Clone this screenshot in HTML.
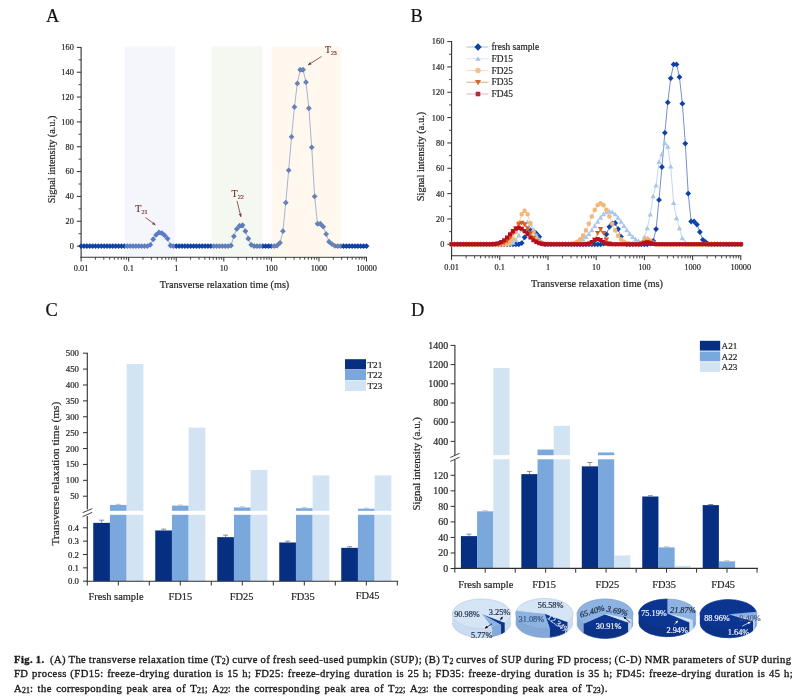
<!DOCTYPE html>
<html><head><meta charset="utf-8"><style>
html,body{margin:0;padding:0;background:#fff;}
body{width:808px;height:700px;overflow:hidden;position:relative;}
svg{position:absolute;left:0;top:0;will-change:transform;}
.cap{will-change:transform;}
svg text{stroke-width:0.2px;}
.cap{position:absolute;left:13.5px;font-family:"Liberation Serif",serif;font-size:10.6px;letter-spacing:0.42px;color:#1a1a1a;white-space:nowrap;-webkit-text-stroke:0.35px #1a1a1a;line-height:14px;}
.j{}
sub{font-size:7.8px;vertical-align:baseline;position:relative;top:1.4px;letter-spacing:0;}
</style></head><body>
<svg width="808" height="700" viewBox="0 0 808 700" font-family="Liberation Serif, serif">
<text x="46.00" y="21.90" font-size="18.4" text-anchor="start" fill="#111" stroke="#111" >A</text>
<text x="410.50" y="21.90" font-size="18.4" text-anchor="start" fill="#111" stroke="#111" >B</text>
<text x="45.50" y="316.30" font-size="18.4" text-anchor="start" fill="#111" stroke="#111" >C</text>
<text x="411.00" y="316.30" font-size="18.4" text-anchor="start" fill="#111" stroke="#111" >D</text>
<line x1="81.10" y1="46.90" x2="81.10" y2="257.70" stroke="#303030" stroke-width="1.1" />
<line x1="80.60" y1="257.20" x2="367.02" y2="257.20" stroke="#303030" stroke-width="1.1" />
<line x1="76.80" y1="246.10" x2="81.10" y2="246.10" stroke="#303030" stroke-width="1" />
<text x="73.80" y="249.00" font-size="8.3" text-anchor="end" fill="#262626" stroke="#262626" >0</text>
<line x1="78.60" y1="233.68" x2="81.10" y2="233.68" stroke="#303030" stroke-width="0.9" />
<line x1="76.80" y1="221.26" x2="81.10" y2="221.26" stroke="#303030" stroke-width="1" />
<text x="73.80" y="224.16" font-size="8.3" text-anchor="end" fill="#262626" stroke="#262626" >20</text>
<line x1="78.60" y1="208.84" x2="81.10" y2="208.84" stroke="#303030" stroke-width="0.9" />
<line x1="76.80" y1="196.42" x2="81.10" y2="196.42" stroke="#303030" stroke-width="1" />
<text x="73.80" y="199.32" font-size="8.3" text-anchor="end" fill="#262626" stroke="#262626" >40</text>
<line x1="78.60" y1="184.00" x2="81.10" y2="184.00" stroke="#303030" stroke-width="0.9" />
<line x1="76.80" y1="171.58" x2="81.10" y2="171.58" stroke="#303030" stroke-width="1" />
<text x="73.80" y="174.48" font-size="8.3" text-anchor="end" fill="#262626" stroke="#262626" >60</text>
<line x1="78.60" y1="159.16" x2="81.10" y2="159.16" stroke="#303030" stroke-width="0.9" />
<line x1="76.80" y1="146.74" x2="81.10" y2="146.74" stroke="#303030" stroke-width="1" />
<text x="73.80" y="149.64" font-size="8.3" text-anchor="end" fill="#262626" stroke="#262626" >80</text>
<line x1="78.60" y1="134.32" x2="81.10" y2="134.32" stroke="#303030" stroke-width="0.9" />
<line x1="76.80" y1="121.90" x2="81.10" y2="121.90" stroke="#303030" stroke-width="1" />
<text x="73.80" y="124.80" font-size="8.3" text-anchor="end" fill="#262626" stroke="#262626" >100</text>
<line x1="78.60" y1="109.48" x2="81.10" y2="109.48" stroke="#303030" stroke-width="0.9" />
<line x1="76.80" y1="97.06" x2="81.10" y2="97.06" stroke="#303030" stroke-width="1" />
<text x="73.80" y="99.96" font-size="8.3" text-anchor="end" fill="#262626" stroke="#262626" >120</text>
<line x1="78.60" y1="84.64" x2="81.10" y2="84.64" stroke="#303030" stroke-width="0.9" />
<line x1="76.80" y1="72.22" x2="81.10" y2="72.22" stroke="#303030" stroke-width="1" />
<text x="73.80" y="75.12" font-size="8.3" text-anchor="end" fill="#262626" stroke="#262626" >140</text>
<line x1="78.60" y1="59.80" x2="81.10" y2="59.80" stroke="#303030" stroke-width="0.9" />
<line x1="76.80" y1="47.38" x2="81.10" y2="47.38" stroke="#303030" stroke-width="1" />
<text x="73.80" y="50.28" font-size="8.3" text-anchor="end" fill="#262626" stroke="#262626" >160</text>
<line x1="81.10" y1="257.20" x2="81.10" y2="261.50" stroke="#303030" stroke-width="1" />
<text x="81.10" y="270.90" font-size="8.3" text-anchor="middle" fill="#262626" stroke="#262626" >0.01</text>
<line x1="95.42" y1="257.20" x2="95.42" y2="259.70" stroke="#303030" stroke-width="0.9" />
<line x1="103.80" y1="257.20" x2="103.80" y2="259.70" stroke="#303030" stroke-width="0.9" />
<line x1="109.74" y1="257.20" x2="109.74" y2="259.70" stroke="#303030" stroke-width="0.9" />
<line x1="114.35" y1="257.20" x2="114.35" y2="259.70" stroke="#303030" stroke-width="0.9" />
<line x1="118.12" y1="257.20" x2="118.12" y2="259.70" stroke="#303030" stroke-width="0.9" />
<line x1="121.30" y1="257.20" x2="121.30" y2="259.70" stroke="#303030" stroke-width="0.9" />
<line x1="124.06" y1="257.20" x2="124.06" y2="259.70" stroke="#303030" stroke-width="0.9" />
<line x1="126.49" y1="257.20" x2="126.49" y2="259.70" stroke="#303030" stroke-width="0.9" />
<line x1="128.67" y1="257.20" x2="128.67" y2="261.50" stroke="#303030" stroke-width="1" />
<text x="128.67" y="270.90" font-size="8.3" text-anchor="middle" fill="#262626" stroke="#262626" >0.1</text>
<line x1="142.99" y1="257.20" x2="142.99" y2="259.70" stroke="#303030" stroke-width="0.9" />
<line x1="151.37" y1="257.20" x2="151.37" y2="259.70" stroke="#303030" stroke-width="0.9" />
<line x1="157.31" y1="257.20" x2="157.31" y2="259.70" stroke="#303030" stroke-width="0.9" />
<line x1="161.92" y1="257.20" x2="161.92" y2="259.70" stroke="#303030" stroke-width="0.9" />
<line x1="165.69" y1="257.20" x2="165.69" y2="259.70" stroke="#303030" stroke-width="0.9" />
<line x1="168.87" y1="257.20" x2="168.87" y2="259.70" stroke="#303030" stroke-width="0.9" />
<line x1="171.63" y1="257.20" x2="171.63" y2="259.70" stroke="#303030" stroke-width="0.9" />
<line x1="174.06" y1="257.20" x2="174.06" y2="259.70" stroke="#303030" stroke-width="0.9" />
<line x1="176.24" y1="257.20" x2="176.24" y2="261.50" stroke="#303030" stroke-width="1" />
<text x="176.24" y="270.90" font-size="8.3" text-anchor="middle" fill="#262626" stroke="#262626" >1</text>
<line x1="190.56" y1="257.20" x2="190.56" y2="259.70" stroke="#303030" stroke-width="0.9" />
<line x1="198.94" y1="257.20" x2="198.94" y2="259.70" stroke="#303030" stroke-width="0.9" />
<line x1="204.88" y1="257.20" x2="204.88" y2="259.70" stroke="#303030" stroke-width="0.9" />
<line x1="209.49" y1="257.20" x2="209.49" y2="259.70" stroke="#303030" stroke-width="0.9" />
<line x1="213.26" y1="257.20" x2="213.26" y2="259.70" stroke="#303030" stroke-width="0.9" />
<line x1="216.44" y1="257.20" x2="216.44" y2="259.70" stroke="#303030" stroke-width="0.9" />
<line x1="219.20" y1="257.20" x2="219.20" y2="259.70" stroke="#303030" stroke-width="0.9" />
<line x1="221.63" y1="257.20" x2="221.63" y2="259.70" stroke="#303030" stroke-width="0.9" />
<line x1="223.81" y1="257.20" x2="223.81" y2="261.50" stroke="#303030" stroke-width="1" />
<text x="223.81" y="270.90" font-size="8.3" text-anchor="middle" fill="#262626" stroke="#262626" >10</text>
<line x1="238.13" y1="257.20" x2="238.13" y2="259.70" stroke="#303030" stroke-width="0.9" />
<line x1="246.51" y1="257.20" x2="246.51" y2="259.70" stroke="#303030" stroke-width="0.9" />
<line x1="252.45" y1="257.20" x2="252.45" y2="259.70" stroke="#303030" stroke-width="0.9" />
<line x1="257.06" y1="257.20" x2="257.06" y2="259.70" stroke="#303030" stroke-width="0.9" />
<line x1="260.83" y1="257.20" x2="260.83" y2="259.70" stroke="#303030" stroke-width="0.9" />
<line x1="264.01" y1="257.20" x2="264.01" y2="259.70" stroke="#303030" stroke-width="0.9" />
<line x1="266.77" y1="257.20" x2="266.77" y2="259.70" stroke="#303030" stroke-width="0.9" />
<line x1="269.20" y1="257.20" x2="269.20" y2="259.70" stroke="#303030" stroke-width="0.9" />
<line x1="271.38" y1="257.20" x2="271.38" y2="261.50" stroke="#303030" stroke-width="1" />
<text x="271.38" y="270.90" font-size="8.3" text-anchor="middle" fill="#262626" stroke="#262626" >100</text>
<line x1="285.70" y1="257.20" x2="285.70" y2="259.70" stroke="#303030" stroke-width="0.9" />
<line x1="294.08" y1="257.20" x2="294.08" y2="259.70" stroke="#303030" stroke-width="0.9" />
<line x1="300.02" y1="257.20" x2="300.02" y2="259.70" stroke="#303030" stroke-width="0.9" />
<line x1="304.63" y1="257.20" x2="304.63" y2="259.70" stroke="#303030" stroke-width="0.9" />
<line x1="308.40" y1="257.20" x2="308.40" y2="259.70" stroke="#303030" stroke-width="0.9" />
<line x1="311.58" y1="257.20" x2="311.58" y2="259.70" stroke="#303030" stroke-width="0.9" />
<line x1="314.34" y1="257.20" x2="314.34" y2="259.70" stroke="#303030" stroke-width="0.9" />
<line x1="316.77" y1="257.20" x2="316.77" y2="259.70" stroke="#303030" stroke-width="0.9" />
<line x1="318.95" y1="257.20" x2="318.95" y2="261.50" stroke="#303030" stroke-width="1" />
<text x="318.95" y="270.90" font-size="8.3" text-anchor="middle" fill="#262626" stroke="#262626" >1000</text>
<line x1="333.27" y1="257.20" x2="333.27" y2="259.70" stroke="#303030" stroke-width="0.9" />
<line x1="341.65" y1="257.20" x2="341.65" y2="259.70" stroke="#303030" stroke-width="0.9" />
<line x1="347.59" y1="257.20" x2="347.59" y2="259.70" stroke="#303030" stroke-width="0.9" />
<line x1="352.20" y1="257.20" x2="352.20" y2="259.70" stroke="#303030" stroke-width="0.9" />
<line x1="355.97" y1="257.20" x2="355.97" y2="259.70" stroke="#303030" stroke-width="0.9" />
<line x1="359.15" y1="257.20" x2="359.15" y2="259.70" stroke="#303030" stroke-width="0.9" />
<line x1="361.91" y1="257.20" x2="361.91" y2="259.70" stroke="#303030" stroke-width="0.9" />
<line x1="364.34" y1="257.20" x2="364.34" y2="259.70" stroke="#303030" stroke-width="0.9" />
<line x1="366.52" y1="257.20" x2="366.52" y2="261.50" stroke="#303030" stroke-width="1" />
<text x="366.52" y="270.90" font-size="8.3" text-anchor="middle" fill="#262626" stroke="#262626" >10000</text>
<text x="224.50" y="287.80" font-size="10.2" text-anchor="middle" fill="#262626" stroke="#262626" >Transverse relaxation time (ms)</text>
<text x="0" y="0" font-size="10.2" text-anchor="middle" fill="#262626" stroke="#262626" transform="translate(54.50,159.50) rotate(-90)">Signal intensity (a.u.)</text>
<polyline fill="none" stroke="#3a62b8" stroke-width="0.7" points="81.10,246.10 83.98,246.10 86.87,246.10 89.75,246.10 92.63,246.10 95.52,246.10 98.40,246.10 101.28,246.10 104.16,246.10 107.05,246.10 109.93,246.10 112.81,246.10 115.70,246.10 118.58,246.10 121.46,246.10 124.35,246.10 127.23,246.10 130.11,246.10 132.99,246.10 135.88,246.10 138.76,246.10 141.64,246.10 144.53,246.10 147.41,246.10 150.29,244.86 153.18,239.27 156.06,234.92 158.94,232.44 161.82,233.06 164.71,235.42 167.59,238.65 170.47,245.48 173.36,246.10 176.24,246.10 179.12,246.10 182.01,246.10 184.89,246.10 187.77,246.10 190.66,246.10 193.54,246.10 196.42,246.10 199.30,246.10 202.19,246.10 205.07,246.10 207.95,246.10 210.84,246.10 213.72,246.10 216.60,246.10 219.49,246.10 222.37,246.10 225.25,246.10 228.13,246.10 231.02,245.48 233.90,236.29 236.78,228.96 239.67,225.73 242.55,225.23 245.43,231.20 248.32,238.65 251.20,244.86 254.08,246.10 256.96,246.10 259.85,246.10 262.73,246.10 265.61,246.10 268.50,246.10 271.38,246.10 274.26,246.10 277.15,245.48 280.03,242.87 282.91,231.20 285.80,202.63 288.68,170.34 291.56,136.80 294.44,107.00 297.33,83.40 300.21,69.74 303.09,69.74 305.98,82.16 308.86,108.24 311.74,147.36 314.63,196.42 317.51,223.74 320.39,223.74 323.27,226.72 326.16,234.05 329.04,241.75 331.92,244.11 334.81,245.85 337.69,246.10 340.57,246.10 343.46,246.10 346.34,246.10 349.22,246.10 352.10,246.10 354.99,246.10 357.87,246.10 360.75,246.10 363.64,246.10 366.52,246.10"/>
<path fill="#0d42a6" d="M78.20 246.10L81.10 243.20L84.00 246.10L81.10 249.00ZM81.08 246.10L83.98 243.20L86.88 246.10L83.98 249.00ZM83.97 246.10L86.87 243.20L89.77 246.10L86.87 249.00ZM86.85 246.10L89.75 243.20L92.65 246.10L89.75 249.00ZM89.73 246.10L92.63 243.20L95.53 246.10L92.63 249.00ZM92.62 246.10L95.52 243.20L98.42 246.10L95.52 249.00ZM95.50 246.10L98.40 243.20L101.30 246.10L98.40 249.00ZM98.38 246.10L101.28 243.20L104.18 246.10L101.28 249.00ZM101.26 246.10L104.16 243.20L107.06 246.10L104.16 249.00ZM104.15 246.10L107.05 243.20L109.95 246.10L107.05 249.00ZM107.03 246.10L109.93 243.20L112.83 246.10L109.93 249.00ZM109.91 246.10L112.81 243.20L115.71 246.10L112.81 249.00ZM112.80 246.10L115.70 243.20L118.60 246.10L115.70 249.00ZM115.68 246.10L118.58 243.20L121.48 246.10L118.58 249.00ZM118.56 246.10L121.46 243.20L124.36 246.10L121.46 249.00ZM121.45 246.10L124.35 243.20L127.25 246.10L124.35 249.00ZM124.33 246.10L127.23 243.20L130.13 246.10L127.23 249.00ZM127.21 246.10L130.11 243.20L133.01 246.10L130.11 249.00ZM130.09 246.10L132.99 243.20L135.89 246.10L132.99 249.00ZM132.98 246.10L135.88 243.20L138.78 246.10L135.88 249.00ZM135.86 246.10L138.76 243.20L141.66 246.10L138.76 249.00ZM138.74 246.10L141.64 243.20L144.54 246.10L141.64 249.00ZM141.63 246.10L144.53 243.20L147.43 246.10L144.53 249.00ZM144.51 246.10L147.41 243.20L150.31 246.10L147.41 249.00ZM147.39 244.86L150.29 241.96L153.19 244.86L150.29 247.76ZM150.28 239.27L153.18 236.37L156.08 239.27L153.18 242.17ZM153.16 234.92L156.06 232.02L158.96 234.92L156.06 237.82ZM156.04 232.44L158.94 229.54L161.84 232.44L158.94 235.34ZM158.92 233.06L161.82 230.16L164.72 233.06L161.82 235.96ZM161.81 235.42L164.71 232.52L167.61 235.42L164.71 238.32ZM164.69 238.65L167.59 235.75L170.49 238.65L167.59 241.55ZM167.57 245.48L170.47 242.58L173.37 245.48L170.47 248.38ZM170.46 246.10L173.36 243.20L176.26 246.10L173.36 249.00ZM173.34 246.10L176.24 243.20L179.14 246.10L176.24 249.00ZM176.22 246.10L179.12 243.20L182.02 246.10L179.12 249.00ZM179.11 246.10L182.01 243.20L184.91 246.10L182.01 249.00ZM181.99 246.10L184.89 243.20L187.79 246.10L184.89 249.00ZM184.87 246.10L187.77 243.20L190.67 246.10L187.77 249.00ZM187.76 246.10L190.66 243.20L193.56 246.10L190.66 249.00ZM190.64 246.10L193.54 243.20L196.44 246.10L193.54 249.00ZM193.52 246.10L196.42 243.20L199.32 246.10L196.42 249.00ZM196.40 246.10L199.30 243.20L202.20 246.10L199.30 249.00ZM199.29 246.10L202.19 243.20L205.09 246.10L202.19 249.00ZM202.17 246.10L205.07 243.20L207.97 246.10L205.07 249.00ZM205.05 246.10L207.95 243.20L210.85 246.10L207.95 249.00ZM207.94 246.10L210.84 243.20L213.74 246.10L210.84 249.00ZM210.82 246.10L213.72 243.20L216.62 246.10L213.72 249.00ZM213.70 246.10L216.60 243.20L219.50 246.10L216.60 249.00ZM216.59 246.10L219.49 243.20L222.39 246.10L219.49 249.00ZM219.47 246.10L222.37 243.20L225.27 246.10L222.37 249.00ZM222.35 246.10L225.25 243.20L228.15 246.10L225.25 249.00ZM225.23 246.10L228.13 243.20L231.03 246.10L228.13 249.00ZM228.12 245.48L231.02 242.58L233.92 245.48L231.02 248.38ZM231.00 236.29L233.90 233.39L236.80 236.29L233.90 239.19ZM233.88 228.96L236.78 226.06L239.68 228.96L236.78 231.86ZM236.77 225.73L239.67 222.83L242.57 225.73L239.67 228.63ZM239.65 225.23L242.55 222.33L245.45 225.23L242.55 228.13ZM242.53 231.20L245.43 228.30L248.33 231.20L245.43 234.10ZM245.42 238.65L248.32 235.75L251.22 238.65L248.32 241.55ZM248.30 244.86L251.20 241.96L254.10 244.86L251.20 247.76ZM251.18 246.10L254.08 243.20L256.98 246.10L254.08 249.00ZM254.06 246.10L256.96 243.20L259.86 246.10L256.96 249.00ZM256.95 246.10L259.85 243.20L262.75 246.10L259.85 249.00ZM259.83 246.10L262.73 243.20L265.63 246.10L262.73 249.00ZM262.71 246.10L265.61 243.20L268.51 246.10L265.61 249.00ZM265.60 246.10L268.50 243.20L271.40 246.10L268.50 249.00ZM268.48 246.10L271.38 243.20L274.28 246.10L271.38 249.00ZM271.36 246.10L274.26 243.20L277.16 246.10L274.26 249.00ZM274.25 245.48L277.15 242.58L280.05 245.48L277.15 248.38ZM277.13 242.87L280.03 239.97L282.93 242.87L280.03 245.77ZM280.01 231.20L282.91 228.30L285.81 231.20L282.91 234.10ZM282.90 202.63L285.80 199.73L288.70 202.63L285.80 205.53ZM285.78 170.34L288.68 167.44L291.58 170.34L288.68 173.24ZM288.66 136.80L291.56 133.90L294.46 136.80L291.56 139.70ZM291.54 107.00L294.44 104.10L297.34 107.00L294.44 109.90ZM294.43 83.40L297.33 80.50L300.23 83.40L297.33 86.30ZM297.31 69.74L300.21 66.84L303.11 69.74L300.21 72.64ZM300.19 69.74L303.09 66.84L305.99 69.74L303.09 72.64ZM303.08 82.16L305.98 79.26L308.88 82.16L305.98 85.06ZM305.96 108.24L308.86 105.34L311.76 108.24L308.86 111.14ZM308.84 147.36L311.74 144.46L314.64 147.36L311.74 150.26ZM311.73 196.42L314.63 193.52L317.53 196.42L314.63 199.32ZM314.61 223.74L317.51 220.84L320.41 223.74L317.51 226.64ZM317.49 223.74L320.39 220.84L323.29 223.74L320.39 226.64ZM320.37 226.72L323.27 223.82L326.17 226.72L323.27 229.62ZM323.26 234.05L326.16 231.15L329.06 234.05L326.16 236.95ZM326.14 241.75L329.04 238.85L331.94 241.75L329.04 244.65ZM329.02 244.11L331.92 241.21L334.82 244.11L331.92 247.01ZM331.91 245.85L334.81 242.95L337.71 245.85L334.81 248.75ZM334.79 246.10L337.69 243.20L340.59 246.10L337.69 249.00ZM337.67 246.10L340.57 243.20L343.47 246.10L340.57 249.00ZM340.56 246.10L343.46 243.20L346.36 246.10L343.46 249.00ZM343.44 246.10L346.34 243.20L349.24 246.10L346.34 249.00ZM346.32 246.10L349.22 243.20L352.12 246.10L349.22 249.00ZM349.20 246.10L352.10 243.20L355.00 246.10L352.10 249.00ZM352.09 246.10L354.99 243.20L357.89 246.10L354.99 249.00ZM354.97 246.10L357.87 243.20L360.77 246.10L357.87 249.00ZM357.85 246.10L360.75 243.20L363.65 246.10L360.75 249.00ZM360.74 246.10L363.64 243.20L366.54 246.10L363.64 249.00ZM363.62 246.10L366.52 243.20L369.42 246.10L366.52 249.00Z"/>
<rect x="124.80" y="46.50" width="50.00" height="210.50" fill="rgb(226,226,248)" fill-opacity="0.36"/>
<rect x="211.80" y="46.50" width="50.50" height="210.50" fill="rgb(228,234,218)" fill-opacity="0.37"/>
<rect x="271.50" y="46.50" width="70.00" height="210.50" fill="rgb(252,236,212)" fill-opacity="0.38"/>
<text x="135.30" y="212.00" font-size="10" fill="#763432" stroke="#763432">T<tspan font-size="6.20" dy="2">21</tspan></text>
<line x1="145.50" y1="217.50" x2="155.50" y2="225.00" stroke="#763432" stroke-width="0.8" />
<text x="231.60" y="197.00" font-size="10" fill="#763432" stroke="#763432">T<tspan font-size="6.20" dy="2">22</tspan></text>
<line x1="237.00" y1="201.00" x2="241.00" y2="217.00" stroke="#763432" stroke-width="0.8" />
<text x="325.00" y="53.00" font-size="9.6" fill="#763432" stroke="#763432">T<tspan font-size="5.95" dy="2">23</tspan></text>
<line x1="321.50" y1="56.50" x2="308.00" y2="65.00" stroke="#763432" stroke-width="0.8" />
<path d="M0 0L-3.2 -1.5L-3.2 1.5Z" fill="#763432" transform="translate(155.5,225) rotate(37)"/>
<path d="M0 0L-3.2 -1.5L-3.2 1.5Z" fill="#763432" transform="translate(241,217) rotate(76)"/>
<path d="M0 0L-3.2 -1.5L-3.2 1.5Z" fill="#763432" transform="translate(308,65) rotate(148)"/>
<line x1="451.60" y1="41.10" x2="451.60" y2="256.30" stroke="#303030" stroke-width="1.1" />
<line x1="451.10" y1="255.80" x2="741.30" y2="255.80" stroke="#303030" stroke-width="1.1" />
<line x1="447.30" y1="244.30" x2="451.60" y2="244.30" stroke="#303030" stroke-width="1" />
<text x="444.30" y="247.20" font-size="8.3" text-anchor="end" fill="#262626" stroke="#262626" >0</text>
<line x1="449.10" y1="231.63" x2="451.60" y2="231.63" stroke="#303030" stroke-width="0.9" />
<line x1="447.30" y1="218.96" x2="451.60" y2="218.96" stroke="#303030" stroke-width="1" />
<text x="444.30" y="221.86" font-size="8.3" text-anchor="end" fill="#262626" stroke="#262626" >20</text>
<line x1="449.10" y1="206.29" x2="451.60" y2="206.29" stroke="#303030" stroke-width="0.9" />
<line x1="447.30" y1="193.62" x2="451.60" y2="193.62" stroke="#303030" stroke-width="1" />
<text x="444.30" y="196.52" font-size="8.3" text-anchor="end" fill="#262626" stroke="#262626" >40</text>
<line x1="449.10" y1="180.95" x2="451.60" y2="180.95" stroke="#303030" stroke-width="0.9" />
<line x1="447.30" y1="168.28" x2="451.60" y2="168.28" stroke="#303030" stroke-width="1" />
<text x="444.30" y="171.18" font-size="8.3" text-anchor="end" fill="#262626" stroke="#262626" >60</text>
<line x1="449.10" y1="155.61" x2="451.60" y2="155.61" stroke="#303030" stroke-width="0.9" />
<line x1="447.30" y1="142.94" x2="451.60" y2="142.94" stroke="#303030" stroke-width="1" />
<text x="444.30" y="145.84" font-size="8.3" text-anchor="end" fill="#262626" stroke="#262626" >80</text>
<line x1="449.10" y1="130.27" x2="451.60" y2="130.27" stroke="#303030" stroke-width="0.9" />
<line x1="447.30" y1="117.60" x2="451.60" y2="117.60" stroke="#303030" stroke-width="1" />
<text x="444.30" y="120.50" font-size="8.3" text-anchor="end" fill="#262626" stroke="#262626" >100</text>
<line x1="449.10" y1="104.93" x2="451.60" y2="104.93" stroke="#303030" stroke-width="0.9" />
<line x1="447.30" y1="92.26" x2="451.60" y2="92.26" stroke="#303030" stroke-width="1" />
<text x="444.30" y="95.16" font-size="8.3" text-anchor="end" fill="#262626" stroke="#262626" >120</text>
<line x1="449.10" y1="79.59" x2="451.60" y2="79.59" stroke="#303030" stroke-width="0.9" />
<line x1="447.30" y1="66.92" x2="451.60" y2="66.92" stroke="#303030" stroke-width="1" />
<text x="444.30" y="69.82" font-size="8.3" text-anchor="end" fill="#262626" stroke="#262626" >140</text>
<line x1="449.10" y1="54.25" x2="451.60" y2="54.25" stroke="#303030" stroke-width="0.9" />
<line x1="447.30" y1="41.58" x2="451.60" y2="41.58" stroke="#303030" stroke-width="1" />
<text x="444.30" y="44.48" font-size="8.3" text-anchor="end" fill="#262626" stroke="#262626" >160</text>
<line x1="451.60" y1="255.80" x2="451.60" y2="260.10" stroke="#303030" stroke-width="1" />
<text x="451.60" y="270.00" font-size="8.3" text-anchor="middle" fill="#262626" stroke="#262626" >0.01</text>
<line x1="466.11" y1="255.80" x2="466.11" y2="258.30" stroke="#303030" stroke-width="0.9" />
<line x1="474.60" y1="255.80" x2="474.60" y2="258.30" stroke="#303030" stroke-width="0.9" />
<line x1="480.62" y1="255.80" x2="480.62" y2="258.30" stroke="#303030" stroke-width="0.9" />
<line x1="485.29" y1="255.80" x2="485.29" y2="258.30" stroke="#303030" stroke-width="0.9" />
<line x1="489.11" y1="255.80" x2="489.11" y2="258.30" stroke="#303030" stroke-width="0.9" />
<line x1="492.33" y1="255.80" x2="492.33" y2="258.30" stroke="#303030" stroke-width="0.9" />
<line x1="495.13" y1="255.80" x2="495.13" y2="258.30" stroke="#303030" stroke-width="0.9" />
<line x1="497.59" y1="255.80" x2="497.59" y2="258.30" stroke="#303030" stroke-width="0.9" />
<line x1="499.80" y1="255.80" x2="499.80" y2="260.10" stroke="#303030" stroke-width="1" />
<text x="499.80" y="270.00" font-size="8.3" text-anchor="middle" fill="#262626" stroke="#262626" >0.1</text>
<line x1="514.31" y1="255.80" x2="514.31" y2="258.30" stroke="#303030" stroke-width="0.9" />
<line x1="522.80" y1="255.80" x2="522.80" y2="258.30" stroke="#303030" stroke-width="0.9" />
<line x1="528.82" y1="255.80" x2="528.82" y2="258.30" stroke="#303030" stroke-width="0.9" />
<line x1="533.49" y1="255.80" x2="533.49" y2="258.30" stroke="#303030" stroke-width="0.9" />
<line x1="537.31" y1="255.80" x2="537.31" y2="258.30" stroke="#303030" stroke-width="0.9" />
<line x1="540.53" y1="255.80" x2="540.53" y2="258.30" stroke="#303030" stroke-width="0.9" />
<line x1="543.33" y1="255.80" x2="543.33" y2="258.30" stroke="#303030" stroke-width="0.9" />
<line x1="545.79" y1="255.80" x2="545.79" y2="258.30" stroke="#303030" stroke-width="0.9" />
<line x1="548.00" y1="255.80" x2="548.00" y2="260.10" stroke="#303030" stroke-width="1" />
<text x="548.00" y="270.00" font-size="8.3" text-anchor="middle" fill="#262626" stroke="#262626" >1</text>
<line x1="562.51" y1="255.80" x2="562.51" y2="258.30" stroke="#303030" stroke-width="0.9" />
<line x1="571.00" y1="255.80" x2="571.00" y2="258.30" stroke="#303030" stroke-width="0.9" />
<line x1="577.02" y1="255.80" x2="577.02" y2="258.30" stroke="#303030" stroke-width="0.9" />
<line x1="581.69" y1="255.80" x2="581.69" y2="258.30" stroke="#303030" stroke-width="0.9" />
<line x1="585.51" y1="255.80" x2="585.51" y2="258.30" stroke="#303030" stroke-width="0.9" />
<line x1="588.73" y1="255.80" x2="588.73" y2="258.30" stroke="#303030" stroke-width="0.9" />
<line x1="591.53" y1="255.80" x2="591.53" y2="258.30" stroke="#303030" stroke-width="0.9" />
<line x1="593.99" y1="255.80" x2="593.99" y2="258.30" stroke="#303030" stroke-width="0.9" />
<line x1="596.20" y1="255.80" x2="596.20" y2="260.10" stroke="#303030" stroke-width="1" />
<text x="596.20" y="270.00" font-size="8.3" text-anchor="middle" fill="#262626" stroke="#262626" >10</text>
<line x1="610.71" y1="255.80" x2="610.71" y2="258.30" stroke="#303030" stroke-width="0.9" />
<line x1="619.20" y1="255.80" x2="619.20" y2="258.30" stroke="#303030" stroke-width="0.9" />
<line x1="625.22" y1="255.80" x2="625.22" y2="258.30" stroke="#303030" stroke-width="0.9" />
<line x1="629.89" y1="255.80" x2="629.89" y2="258.30" stroke="#303030" stroke-width="0.9" />
<line x1="633.71" y1="255.80" x2="633.71" y2="258.30" stroke="#303030" stroke-width="0.9" />
<line x1="636.93" y1="255.80" x2="636.93" y2="258.30" stroke="#303030" stroke-width="0.9" />
<line x1="639.73" y1="255.80" x2="639.73" y2="258.30" stroke="#303030" stroke-width="0.9" />
<line x1="642.19" y1="255.80" x2="642.19" y2="258.30" stroke="#303030" stroke-width="0.9" />
<line x1="644.40" y1="255.80" x2="644.40" y2="260.10" stroke="#303030" stroke-width="1" />
<text x="644.40" y="270.00" font-size="8.3" text-anchor="middle" fill="#262626" stroke="#262626" >100</text>
<line x1="658.91" y1="255.80" x2="658.91" y2="258.30" stroke="#303030" stroke-width="0.9" />
<line x1="667.40" y1="255.80" x2="667.40" y2="258.30" stroke="#303030" stroke-width="0.9" />
<line x1="673.42" y1="255.80" x2="673.42" y2="258.30" stroke="#303030" stroke-width="0.9" />
<line x1="678.09" y1="255.80" x2="678.09" y2="258.30" stroke="#303030" stroke-width="0.9" />
<line x1="681.91" y1="255.80" x2="681.91" y2="258.30" stroke="#303030" stroke-width="0.9" />
<line x1="685.13" y1="255.80" x2="685.13" y2="258.30" stroke="#303030" stroke-width="0.9" />
<line x1="687.93" y1="255.80" x2="687.93" y2="258.30" stroke="#303030" stroke-width="0.9" />
<line x1="690.39" y1="255.80" x2="690.39" y2="258.30" stroke="#303030" stroke-width="0.9" />
<line x1="692.60" y1="255.80" x2="692.60" y2="260.10" stroke="#303030" stroke-width="1" />
<text x="692.60" y="270.00" font-size="8.3" text-anchor="middle" fill="#262626" stroke="#262626" >1000</text>
<line x1="707.11" y1="255.80" x2="707.11" y2="258.30" stroke="#303030" stroke-width="0.9" />
<line x1="715.60" y1="255.80" x2="715.60" y2="258.30" stroke="#303030" stroke-width="0.9" />
<line x1="721.62" y1="255.80" x2="721.62" y2="258.30" stroke="#303030" stroke-width="0.9" />
<line x1="726.29" y1="255.80" x2="726.29" y2="258.30" stroke="#303030" stroke-width="0.9" />
<line x1="730.11" y1="255.80" x2="730.11" y2="258.30" stroke="#303030" stroke-width="0.9" />
<line x1="733.33" y1="255.80" x2="733.33" y2="258.30" stroke="#303030" stroke-width="0.9" />
<line x1="736.13" y1="255.80" x2="736.13" y2="258.30" stroke="#303030" stroke-width="0.9" />
<line x1="738.59" y1="255.80" x2="738.59" y2="258.30" stroke="#303030" stroke-width="0.9" />
<line x1="740.80" y1="255.80" x2="740.80" y2="260.10" stroke="#303030" stroke-width="1" />
<text x="740.80" y="270.00" font-size="8.3" text-anchor="middle" fill="#262626" stroke="#262626" >10000</text>
<text x="597.00" y="286.60" font-size="10.4" text-anchor="middle" fill="#262626" stroke="#262626" >Transverse relaxation time (ms)</text>
<text x="0" y="0" font-size="10.4" text-anchor="middle" fill="#262626" stroke="#262626" transform="translate(423.50,156.50) rotate(-90)">Signal intensity (a.u.)</text>
<polyline fill="none" stroke="#3a62b8" stroke-width="0.7" points="451.60,244.30 454.52,244.30 457.44,244.30 460.36,244.30 463.28,244.30 466.21,244.30 469.13,244.30 472.05,244.30 474.97,244.30 477.89,244.30 480.81,244.30 483.73,244.30 486.65,244.30 489.58,244.30 492.50,244.30 495.42,244.30 498.34,244.30 501.26,244.30 504.18,244.30 507.10,244.30 510.02,244.30 512.95,244.30 515.87,244.30 518.79,244.30 521.71,243.03 524.63,237.33 527.55,232.90 530.47,230.36 533.39,231.00 536.32,233.40 539.24,236.70 542.16,243.67 545.08,244.30 548.00,244.30 550.92,244.30 553.84,244.30 556.76,244.30 559.68,244.30 562.61,244.30 565.53,244.30 568.45,244.30 571.37,244.30 574.29,244.30 577.21,244.30 580.13,244.30 583.05,244.30 585.98,244.30 588.90,244.30 591.82,244.30 594.74,244.30 597.66,244.30 600.58,244.30 603.50,243.67 606.42,234.29 609.35,226.82 612.27,223.52 615.19,223.01 618.11,229.10 621.03,236.70 623.95,243.03 626.87,244.30 629.79,244.30 632.72,244.30 635.64,244.30 638.56,244.30 641.48,244.30 644.40,244.30 647.32,244.30 650.24,243.67 653.16,241.01 656.08,229.10 659.01,199.96 661.93,167.01 664.85,132.80 667.77,102.40 670.69,78.32 673.61,64.39 676.53,64.39 679.45,77.06 682.38,103.66 685.30,143.57 688.22,193.62 691.14,221.49 694.06,221.49 696.98,224.53 699.90,232.01 702.82,239.87 705.75,242.27 708.67,244.05 711.59,244.30 714.51,244.30 717.43,244.30 720.35,244.30 723.27,244.30 726.19,244.30 729.12,244.30 732.04,244.30 734.96,244.30 737.88,244.30 740.80,244.30"/>
<path fill="#0d42a6" d="M448.70 244.30L451.60 241.40L454.50 244.30L451.60 247.20ZM451.62 244.30L454.52 241.40L457.42 244.30L454.52 247.20ZM454.54 244.30L457.44 241.40L460.34 244.30L457.44 247.20ZM457.46 244.30L460.36 241.40L463.26 244.30L460.36 247.20ZM460.38 244.30L463.28 241.40L466.18 244.30L463.28 247.20ZM463.31 244.30L466.21 241.40L469.11 244.30L466.21 247.20ZM466.23 244.30L469.13 241.40L472.03 244.30L469.13 247.20ZM469.15 244.30L472.05 241.40L474.95 244.30L472.05 247.20ZM472.07 244.30L474.97 241.40L477.87 244.30L474.97 247.20ZM474.99 244.30L477.89 241.40L480.79 244.30L477.89 247.20ZM477.91 244.30L480.81 241.40L483.71 244.30L480.81 247.20ZM480.83 244.30L483.73 241.40L486.63 244.30L483.73 247.20ZM483.75 244.30L486.65 241.40L489.55 244.30L486.65 247.20ZM486.68 244.30L489.58 241.40L492.48 244.30L489.58 247.20ZM489.60 244.30L492.50 241.40L495.40 244.30L492.50 247.20ZM492.52 244.30L495.42 241.40L498.32 244.30L495.42 247.20ZM495.44 244.30L498.34 241.40L501.24 244.30L498.34 247.20ZM498.36 244.30L501.26 241.40L504.16 244.30L501.26 247.20ZM501.28 244.30L504.18 241.40L507.08 244.30L504.18 247.20ZM504.20 244.30L507.10 241.40L510.00 244.30L507.10 247.20ZM507.12 244.30L510.02 241.40L512.92 244.30L510.02 247.20ZM510.05 244.30L512.95 241.40L515.85 244.30L512.95 247.20ZM512.97 244.30L515.87 241.40L518.77 244.30L515.87 247.20ZM515.89 244.30L518.79 241.40L521.69 244.30L518.79 247.20ZM518.81 243.03L521.71 240.13L524.61 243.03L521.71 245.93ZM521.73 237.33L524.63 234.43L527.53 237.33L524.63 240.23ZM524.65 232.90L527.55 230.00L530.45 232.90L527.55 235.80ZM527.57 230.36L530.47 227.46L533.37 230.36L530.47 233.26ZM530.49 231.00L533.39 228.10L536.29 231.00L533.39 233.90ZM533.42 233.40L536.32 230.50L539.22 233.40L536.32 236.30ZM536.34 236.70L539.24 233.80L542.14 236.70L539.24 239.60ZM539.26 243.67L542.16 240.77L545.06 243.67L542.16 246.57ZM542.18 244.30L545.08 241.40L547.98 244.30L545.08 247.20ZM545.10 244.30L548.00 241.40L550.90 244.30L548.00 247.20ZM548.02 244.30L550.92 241.40L553.82 244.30L550.92 247.20ZM550.94 244.30L553.84 241.40L556.74 244.30L553.84 247.20ZM553.86 244.30L556.76 241.40L559.66 244.30L556.76 247.20ZM556.78 244.30L559.68 241.40L562.58 244.30L559.68 247.20ZM559.71 244.30L562.61 241.40L565.51 244.30L562.61 247.20ZM562.63 244.30L565.53 241.40L568.43 244.30L565.53 247.20ZM565.55 244.30L568.45 241.40L571.35 244.30L568.45 247.20ZM568.47 244.30L571.37 241.40L574.27 244.30L571.37 247.20ZM571.39 244.30L574.29 241.40L577.19 244.30L574.29 247.20ZM574.31 244.30L577.21 241.40L580.11 244.30L577.21 247.20ZM577.23 244.30L580.13 241.40L583.03 244.30L580.13 247.20ZM580.15 244.30L583.05 241.40L585.95 244.30L583.05 247.20ZM583.08 244.30L585.98 241.40L588.88 244.30L585.98 247.20ZM586.00 244.30L588.90 241.40L591.80 244.30L588.90 247.20ZM588.92 244.30L591.82 241.40L594.72 244.30L591.82 247.20ZM591.84 244.30L594.74 241.40L597.64 244.30L594.74 247.20ZM594.76 244.30L597.66 241.40L600.56 244.30L597.66 247.20ZM597.68 244.30L600.58 241.40L603.48 244.30L600.58 247.20ZM600.60 243.67L603.50 240.77L606.40 243.67L603.50 246.57ZM603.52 234.29L606.42 231.39L609.32 234.29L606.42 237.19ZM606.45 226.82L609.35 223.92L612.25 226.82L609.35 229.72ZM609.37 223.52L612.27 220.62L615.17 223.52L612.27 226.42ZM612.29 223.01L615.19 220.11L618.09 223.01L615.19 225.91ZM615.21 229.10L618.11 226.20L621.01 229.10L618.11 232.00ZM618.13 236.70L621.03 233.80L623.93 236.70L621.03 239.60ZM621.05 243.03L623.95 240.13L626.85 243.03L623.95 245.93ZM623.97 244.30L626.87 241.40L629.77 244.30L626.87 247.20ZM626.89 244.30L629.79 241.40L632.69 244.30L629.79 247.20ZM629.82 244.30L632.72 241.40L635.62 244.30L632.72 247.20ZM632.74 244.30L635.64 241.40L638.54 244.30L635.64 247.20ZM635.66 244.30L638.56 241.40L641.46 244.30L638.56 247.20ZM638.58 244.30L641.48 241.40L644.38 244.30L641.48 247.20ZM641.50 244.30L644.40 241.40L647.30 244.30L644.40 247.20ZM644.42 244.30L647.32 241.40L650.22 244.30L647.32 247.20ZM647.34 243.67L650.24 240.77L653.14 243.67L650.24 246.57ZM650.26 241.01L653.16 238.11L656.06 241.01L653.16 243.91ZM653.18 229.10L656.08 226.20L658.98 229.10L656.08 232.00ZM656.11 199.96L659.01 197.06L661.91 199.96L659.01 202.86ZM659.03 167.01L661.93 164.11L664.83 167.01L661.93 169.91ZM661.95 132.80L664.85 129.90L667.75 132.80L664.85 135.70ZM664.87 102.40L667.77 99.50L670.67 102.40L667.77 105.30ZM667.79 78.32L670.69 75.42L673.59 78.32L670.69 81.22ZM670.71 64.39L673.61 61.49L676.51 64.39L673.61 67.29ZM673.63 64.39L676.53 61.49L679.43 64.39L676.53 67.29ZM676.55 77.06L679.45 74.16L682.35 77.06L679.45 79.96ZM679.48 103.66L682.38 100.76L685.28 103.66L682.38 106.56ZM682.40 143.57L685.30 140.67L688.20 143.57L685.30 146.47ZM685.32 193.62L688.22 190.72L691.12 193.62L688.22 196.52ZM688.24 221.49L691.14 218.59L694.04 221.49L691.14 224.39ZM691.16 221.49L694.06 218.59L696.96 221.49L694.06 224.39ZM694.08 224.53L696.98 221.63L699.88 224.53L696.98 227.43ZM697.00 232.01L699.90 229.11L702.80 232.01L699.90 234.91ZM699.92 239.87L702.82 236.97L705.72 239.87L702.82 242.77ZM702.85 242.27L705.75 239.37L708.65 242.27L705.75 245.17ZM705.77 244.05L708.67 241.15L711.57 244.05L708.67 246.95ZM708.69 244.30L711.59 241.40L714.49 244.30L711.59 247.20ZM711.61 244.30L714.51 241.40L717.41 244.30L714.51 247.20ZM714.53 244.30L717.43 241.40L720.33 244.30L717.43 247.20ZM717.45 244.30L720.35 241.40L723.25 244.30L720.35 247.20ZM720.37 244.30L723.27 241.40L726.17 244.30L723.27 247.20ZM723.29 244.30L726.19 241.40L729.09 244.30L726.19 247.20ZM726.22 244.30L729.12 241.40L732.02 244.30L729.12 247.20ZM729.14 244.30L732.04 241.40L734.94 244.30L732.04 247.20ZM732.06 244.30L734.96 241.40L737.86 244.30L734.96 247.20ZM734.98 244.30L737.88 241.40L740.78 244.30L737.88 247.20ZM737.90 244.30L740.80 241.40L743.70 244.30L740.80 247.20Z"/>
<polyline fill="none" stroke="#a9c6e6" stroke-width="0.7" points="451.60,244.30 454.52,244.30 457.44,244.30 460.36,244.30 463.28,244.30 466.21,244.30 469.13,244.30 472.05,244.30 474.97,244.30 477.89,244.30 480.81,244.30 483.73,244.30 486.65,244.30 489.58,244.30 492.50,244.30 495.42,244.30 498.34,244.30 501.26,244.29 504.18,244.27 507.10,244.16 510.02,243.76 512.95,242.62 515.87,240.05 518.79,235.55 521.71,229.63 524.63,224.30 527.55,222.13 530.47,224.30 533.39,229.63 536.32,235.55 539.24,240.05 542.16,242.62 545.08,243.76 548.00,244.16 550.92,244.27 553.84,244.29 556.76,244.28 559.68,244.26 562.61,244.22 565.53,244.14 568.45,243.98 571.37,243.69 574.29,243.20 577.21,242.41 580.13,241.20 583.05,239.44 585.98,237.04 588.90,233.95 591.82,230.23 594.74,226.05 597.66,221.73 600.58,217.67 603.50,214.33 606.42,212.13 609.35,211.36 612.27,212.13 615.19,214.33 618.11,217.67 621.03,221.73 623.95,226.05 626.87,230.23 629.79,233.95 632.72,237.04 635.64,239.44 638.56,241.20 641.48,242.40 644.40,237.08 647.32,228.34 650.24,214.40 653.16,196.15 656.08,185.38 659.01,161.95 661.93,154.34 664.85,142.94 667.77,146.74 670.69,166.38 673.61,203.00 676.53,218.20 679.45,228.34 682.38,238.35 685.30,243.03 688.22,244.30 691.14,244.30 694.06,244.30 696.98,244.30 699.90,244.30 702.82,244.30 705.75,244.30 708.67,244.30 711.59,244.30 714.51,244.30 717.43,244.30 720.35,244.30 723.27,244.30 726.19,244.30 729.12,244.30 732.04,244.30 734.96,244.30 737.88,244.30 740.80,244.30"/>
<path fill="#a8c8ea" d="M448.90 246.33L451.60 241.60L454.30 246.33ZM451.82 246.33L454.52 241.60L457.22 246.33ZM454.74 246.33L457.44 241.60L460.14 246.33ZM457.66 246.33L460.36 241.60L463.06 246.33ZM460.58 246.33L463.28 241.60L465.98 246.33ZM463.51 246.33L466.21 241.60L468.91 246.33ZM466.43 246.33L469.13 241.60L471.83 246.33ZM469.35 246.33L472.05 241.60L474.75 246.33ZM472.27 246.32L474.97 241.60L477.67 246.32ZM475.19 246.32L477.89 241.60L480.59 246.32ZM478.11 246.32L480.81 241.60L483.51 246.32ZM481.03 246.32L483.73 241.60L486.43 246.32ZM483.95 246.32L486.65 241.60L489.35 246.32ZM486.88 246.32L489.58 241.60L492.28 246.32ZM489.80 246.32L492.50 241.60L495.20 246.32ZM492.72 246.32L495.42 241.60L498.12 246.32ZM495.64 246.32L498.34 241.60L501.04 246.32ZM498.56 246.32L501.26 241.59L503.96 246.32ZM501.48 246.30L504.18 241.57L506.88 246.30ZM504.40 246.18L507.10 241.46L509.80 246.18ZM507.32 245.79L510.02 241.06L512.72 245.79ZM510.25 244.65L512.95 239.92L515.65 244.65ZM513.17 242.08L515.87 237.35L518.57 242.08ZM516.09 237.57L518.79 232.85L521.49 237.57ZM519.01 231.66L521.71 226.93L524.41 231.66ZM521.93 226.33L524.63 221.60L527.33 226.33ZM524.85 224.15L527.55 219.43L530.25 224.15ZM527.77 226.33L530.47 221.60L533.17 226.33ZM530.69 231.66L533.39 226.93L536.09 231.66ZM533.62 237.57L536.32 232.85L539.02 237.57ZM536.54 242.08L539.24 237.35L541.94 242.08ZM539.46 244.65L542.16 239.92L544.86 244.65ZM542.38 245.79L545.08 241.06L547.78 245.79ZM545.30 246.18L548.00 241.46L550.70 246.18ZM548.22 246.29L550.92 241.57L553.62 246.29ZM551.14 246.31L553.84 241.59L556.54 246.31ZM554.06 246.31L556.76 241.58L559.46 246.31ZM556.98 246.29L559.68 241.56L562.38 246.29ZM559.91 246.25L562.61 241.52L565.31 246.25ZM562.83 246.16L565.53 241.44L568.23 246.16ZM565.75 246.00L568.45 241.28L571.15 246.00ZM568.67 245.72L571.37 240.99L574.07 245.72ZM571.59 245.23L574.29 240.50L576.99 245.23ZM574.51 244.44L577.21 239.71L579.91 244.44ZM577.43 243.22L580.13 238.50L582.83 243.22ZM580.35 241.47L583.05 236.74L585.75 241.47ZM583.28 239.06L585.98 234.34L588.68 239.06ZM586.20 235.98L588.90 231.25L591.60 235.98ZM589.12 232.25L591.82 227.53L594.52 232.25ZM592.04 228.08L594.74 223.35L597.44 228.08ZM594.96 223.75L597.66 219.03L600.36 223.75ZM597.88 219.69L600.58 214.97L603.28 219.69ZM600.80 216.35L603.50 211.63L606.20 216.35ZM603.72 214.15L606.42 209.43L609.12 214.15ZM606.65 213.38L609.35 208.66L612.05 213.38ZM609.57 214.15L612.27 209.43L614.97 214.15ZM612.49 216.35L615.19 211.63L617.89 216.35ZM615.41 219.69L618.11 214.97L620.81 219.69ZM618.33 223.75L621.03 219.03L623.73 223.75ZM621.25 228.08L623.95 223.35L626.65 228.08ZM624.17 232.25L626.87 227.53L629.57 232.25ZM627.09 235.98L629.79 231.25L632.49 235.98ZM630.02 239.06L632.72 234.34L635.42 239.06ZM632.94 241.47L635.64 236.74L638.34 241.47ZM635.86 243.22L638.56 238.50L641.26 243.22ZM638.78 244.42L641.48 239.70L644.18 244.42ZM641.70 239.10L644.40 234.38L647.10 239.10ZM644.62 230.36L647.32 225.64L650.02 230.36ZM647.54 216.42L650.24 211.70L652.94 216.42ZM650.46 198.18L653.16 193.45L655.86 198.18ZM653.38 187.41L656.08 182.68L658.78 187.41ZM656.31 163.97L659.01 159.25L661.71 163.97ZM659.23 156.37L661.93 151.64L664.63 156.37ZM662.15 144.97L664.85 140.24L667.55 144.97ZM665.07 148.77L667.77 144.04L670.47 148.77ZM667.99 168.40L670.69 163.68L673.39 168.40ZM670.91 205.02L673.61 200.30L676.31 205.02ZM673.83 220.22L676.53 215.50L679.23 220.22ZM676.75 230.36L679.45 225.64L682.15 230.36ZM679.68 240.37L682.38 235.65L685.08 240.37ZM682.60 245.06L685.30 240.33L688.00 245.06ZM685.52 246.32L688.22 241.60L690.92 246.32ZM688.44 246.32L691.14 241.60L693.84 246.32ZM691.36 246.32L694.06 241.60L696.76 246.32ZM694.28 246.32L696.98 241.60L699.68 246.32ZM697.20 246.32L699.90 241.60L702.60 246.32ZM700.12 246.32L702.82 241.60L705.52 246.32ZM703.05 246.32L705.75 241.60L708.45 246.32ZM705.97 246.32L708.67 241.60L711.37 246.32ZM708.89 246.32L711.59 241.60L714.29 246.32ZM711.81 246.32L714.51 241.60L717.21 246.32ZM714.73 246.32L717.43 241.60L720.13 246.32ZM717.65 246.32L720.35 241.60L723.05 246.32ZM720.57 246.33L723.27 241.60L725.97 246.33ZM723.49 246.33L726.19 241.60L728.89 246.33ZM726.42 246.33L729.12 241.60L731.82 246.33ZM729.34 246.33L732.04 241.60L734.74 246.33ZM732.26 246.33L734.96 241.60L737.66 246.33ZM735.18 246.33L737.88 241.60L740.58 246.33ZM738.10 246.33L740.80 241.60L743.50 246.33Z"/>
<polyline fill="none" stroke="#f2c08a" stroke-width="0.7" points="451.60,244.30 454.52,244.30 457.44,244.30 460.36,244.30 463.28,244.30 466.21,244.30 469.13,244.30 472.05,244.30 474.97,244.30 477.89,244.30 480.81,244.30 483.73,244.30 486.65,244.30 489.58,244.30 492.50,244.30 495.42,244.30 498.34,244.30 501.26,244.28 504.18,244.17 507.10,243.73 510.02,242.33 512.95,238.83 515.87,232.20 518.79,222.97 521.71,214.32 524.63,210.72 527.55,214.32 530.47,222.97 533.39,232.20 536.32,238.83 539.24,242.33 542.16,243.73 545.08,244.17 548.00,244.28 550.92,244.30 553.84,244.30 556.76,244.30 559.68,244.29 562.61,244.27 565.53,244.22 568.45,244.08 571.37,243.76 574.29,243.07 577.21,241.73 580.13,239.38 583.05,235.68 585.98,230.42 588.90,223.82 591.82,216.57 594.74,209.88 597.66,205.11 600.58,203.38 603.50,205.11 606.42,209.88 609.35,216.57 612.27,223.82 615.19,230.42 618.11,235.68 621.03,239.38 623.95,241.73 626.87,243.07 629.79,243.76 632.72,244.08 635.64,244.20 638.56,244.02 641.48,242.87 644.40,240.27 647.32,238.60 650.24,240.27 653.16,242.88 656.08,244.05 659.01,244.28 661.93,244.30 664.85,244.30 667.77,244.30 670.69,244.30 673.61,244.30 676.53,244.30 679.45,244.30 682.38,244.30 685.30,244.30 688.22,244.30 691.14,244.30 694.06,244.30 696.98,244.30 699.90,244.30 702.82,244.30 705.75,244.30 708.67,244.30 711.59,244.30 714.51,244.30 717.43,244.30 720.35,244.30 723.27,244.30 726.19,244.30 729.12,244.30 732.04,244.30 734.96,244.30 737.88,244.30 740.80,244.30"/>
<path fill="#f2b87a" d="M449.30 244.30a2.30 2.30 0 1 0 4.60 0a2.30 2.30 0 1 0 -4.60 0ZM452.22 244.30a2.30 2.30 0 1 0 4.60 0a2.30 2.30 0 1 0 -4.60 0ZM455.14 244.30a2.30 2.30 0 1 0 4.60 0a2.30 2.30 0 1 0 -4.60 0ZM458.06 244.30a2.30 2.30 0 1 0 4.60 0a2.30 2.30 0 1 0 -4.60 0ZM460.98 244.30a2.30 2.30 0 1 0 4.60 0a2.30 2.30 0 1 0 -4.60 0ZM463.91 244.30a2.30 2.30 0 1 0 4.60 0a2.30 2.30 0 1 0 -4.60 0ZM466.83 244.30a2.30 2.30 0 1 0 4.60 0a2.30 2.30 0 1 0 -4.60 0ZM469.75 244.30a2.30 2.30 0 1 0 4.60 0a2.30 2.30 0 1 0 -4.60 0ZM472.67 244.30a2.30 2.30 0 1 0 4.60 0a2.30 2.30 0 1 0 -4.60 0ZM475.59 244.30a2.30 2.30 0 1 0 4.60 0a2.30 2.30 0 1 0 -4.60 0ZM478.51 244.30a2.30 2.30 0 1 0 4.60 0a2.30 2.30 0 1 0 -4.60 0ZM481.43 244.30a2.30 2.30 0 1 0 4.60 0a2.30 2.30 0 1 0 -4.60 0ZM484.35 244.30a2.30 2.30 0 1 0 4.60 0a2.30 2.30 0 1 0 -4.60 0ZM487.28 244.30a2.30 2.30 0 1 0 4.60 0a2.30 2.30 0 1 0 -4.60 0ZM490.20 244.30a2.30 2.30 0 1 0 4.60 0a2.30 2.30 0 1 0 -4.60 0ZM493.12 244.30a2.30 2.30 0 1 0 4.60 0a2.30 2.30 0 1 0 -4.60 0ZM496.04 244.30a2.30 2.30 0 1 0 4.60 0a2.30 2.30 0 1 0 -4.60 0ZM498.96 244.28a2.30 2.30 0 1 0 4.60 0a2.30 2.30 0 1 0 -4.60 0ZM501.88 244.17a2.30 2.30 0 1 0 4.60 0a2.30 2.30 0 1 0 -4.60 0ZM504.80 243.73a2.30 2.30 0 1 0 4.60 0a2.30 2.30 0 1 0 -4.60 0ZM507.72 242.33a2.30 2.30 0 1 0 4.60 0a2.30 2.30 0 1 0 -4.60 0ZM510.65 238.83a2.30 2.30 0 1 0 4.60 0a2.30 2.30 0 1 0 -4.60 0ZM513.57 232.20a2.30 2.30 0 1 0 4.60 0a2.30 2.30 0 1 0 -4.60 0ZM516.49 222.97a2.30 2.30 0 1 0 4.60 0a2.30 2.30 0 1 0 -4.60 0ZM519.41 214.32a2.30 2.30 0 1 0 4.60 0a2.30 2.30 0 1 0 -4.60 0ZM522.33 210.72a2.30 2.30 0 1 0 4.60 0a2.30 2.30 0 1 0 -4.60 0ZM525.25 214.32a2.30 2.30 0 1 0 4.60 0a2.30 2.30 0 1 0 -4.60 0ZM528.17 222.97a2.30 2.30 0 1 0 4.60 0a2.30 2.30 0 1 0 -4.60 0ZM531.09 232.20a2.30 2.30 0 1 0 4.60 0a2.30 2.30 0 1 0 -4.60 0ZM534.02 238.83a2.30 2.30 0 1 0 4.60 0a2.30 2.30 0 1 0 -4.60 0ZM536.94 242.33a2.30 2.30 0 1 0 4.60 0a2.30 2.30 0 1 0 -4.60 0ZM539.86 243.73a2.30 2.30 0 1 0 4.60 0a2.30 2.30 0 1 0 -4.60 0ZM542.78 244.17a2.30 2.30 0 1 0 4.60 0a2.30 2.30 0 1 0 -4.60 0ZM545.70 244.28a2.30 2.30 0 1 0 4.60 0a2.30 2.30 0 1 0 -4.60 0ZM548.62 244.30a2.30 2.30 0 1 0 4.60 0a2.30 2.30 0 1 0 -4.60 0ZM551.54 244.30a2.30 2.30 0 1 0 4.60 0a2.30 2.30 0 1 0 -4.60 0ZM554.46 244.30a2.30 2.30 0 1 0 4.60 0a2.30 2.30 0 1 0 -4.60 0ZM557.38 244.29a2.30 2.30 0 1 0 4.60 0a2.30 2.30 0 1 0 -4.60 0ZM560.31 244.27a2.30 2.30 0 1 0 4.60 0a2.30 2.30 0 1 0 -4.60 0ZM563.23 244.22a2.30 2.30 0 1 0 4.60 0a2.30 2.30 0 1 0 -4.60 0ZM566.15 244.08a2.30 2.30 0 1 0 4.60 0a2.30 2.30 0 1 0 -4.60 0ZM569.07 243.76a2.30 2.30 0 1 0 4.60 0a2.30 2.30 0 1 0 -4.60 0ZM571.99 243.07a2.30 2.30 0 1 0 4.60 0a2.30 2.30 0 1 0 -4.60 0ZM574.91 241.73a2.30 2.30 0 1 0 4.60 0a2.30 2.30 0 1 0 -4.60 0ZM577.83 239.38a2.30 2.30 0 1 0 4.60 0a2.30 2.30 0 1 0 -4.60 0ZM580.75 235.68a2.30 2.30 0 1 0 4.60 0a2.30 2.30 0 1 0 -4.60 0ZM583.68 230.42a2.30 2.30 0 1 0 4.60 0a2.30 2.30 0 1 0 -4.60 0ZM586.60 223.82a2.30 2.30 0 1 0 4.60 0a2.30 2.30 0 1 0 -4.60 0ZM589.52 216.57a2.30 2.30 0 1 0 4.60 0a2.30 2.30 0 1 0 -4.60 0ZM592.44 209.88a2.30 2.30 0 1 0 4.60 0a2.30 2.30 0 1 0 -4.60 0ZM595.36 205.11a2.30 2.30 0 1 0 4.60 0a2.30 2.30 0 1 0 -4.60 0ZM598.28 203.38a2.30 2.30 0 1 0 4.60 0a2.30 2.30 0 1 0 -4.60 0ZM601.20 205.11a2.30 2.30 0 1 0 4.60 0a2.30 2.30 0 1 0 -4.60 0ZM604.12 209.88a2.30 2.30 0 1 0 4.60 0a2.30 2.30 0 1 0 -4.60 0ZM607.05 216.57a2.30 2.30 0 1 0 4.60 0a2.30 2.30 0 1 0 -4.60 0ZM609.97 223.82a2.30 2.30 0 1 0 4.60 0a2.30 2.30 0 1 0 -4.60 0ZM612.89 230.42a2.30 2.30 0 1 0 4.60 0a2.30 2.30 0 1 0 -4.60 0ZM615.81 235.68a2.30 2.30 0 1 0 4.60 0a2.30 2.30 0 1 0 -4.60 0ZM618.73 239.38a2.30 2.30 0 1 0 4.60 0a2.30 2.30 0 1 0 -4.60 0ZM621.65 241.73a2.30 2.30 0 1 0 4.60 0a2.30 2.30 0 1 0 -4.60 0ZM624.57 243.07a2.30 2.30 0 1 0 4.60 0a2.30 2.30 0 1 0 -4.60 0ZM627.49 243.76a2.30 2.30 0 1 0 4.60 0a2.30 2.30 0 1 0 -4.60 0ZM630.42 244.08a2.30 2.30 0 1 0 4.60 0a2.30 2.30 0 1 0 -4.60 0ZM633.34 244.20a2.30 2.30 0 1 0 4.60 0a2.30 2.30 0 1 0 -4.60 0ZM636.26 244.02a2.30 2.30 0 1 0 4.60 0a2.30 2.30 0 1 0 -4.60 0ZM639.18 242.87a2.30 2.30 0 1 0 4.60 0a2.30 2.30 0 1 0 -4.60 0ZM642.10 240.27a2.30 2.30 0 1 0 4.60 0a2.30 2.30 0 1 0 -4.60 0ZM645.02 238.60a2.30 2.30 0 1 0 4.60 0a2.30 2.30 0 1 0 -4.60 0ZM647.94 240.27a2.30 2.30 0 1 0 4.60 0a2.30 2.30 0 1 0 -4.60 0ZM650.86 242.88a2.30 2.30 0 1 0 4.60 0a2.30 2.30 0 1 0 -4.60 0ZM653.78 244.05a2.30 2.30 0 1 0 4.60 0a2.30 2.30 0 1 0 -4.60 0ZM656.71 244.28a2.30 2.30 0 1 0 4.60 0a2.30 2.30 0 1 0 -4.60 0ZM659.63 244.30a2.30 2.30 0 1 0 4.60 0a2.30 2.30 0 1 0 -4.60 0ZM662.55 244.30a2.30 2.30 0 1 0 4.60 0a2.30 2.30 0 1 0 -4.60 0ZM665.47 244.30a2.30 2.30 0 1 0 4.60 0a2.30 2.30 0 1 0 -4.60 0ZM668.39 244.30a2.30 2.30 0 1 0 4.60 0a2.30 2.30 0 1 0 -4.60 0ZM671.31 244.30a2.30 2.30 0 1 0 4.60 0a2.30 2.30 0 1 0 -4.60 0ZM674.23 244.30a2.30 2.30 0 1 0 4.60 0a2.30 2.30 0 1 0 -4.60 0ZM677.15 244.30a2.30 2.30 0 1 0 4.60 0a2.30 2.30 0 1 0 -4.60 0ZM680.08 244.30a2.30 2.30 0 1 0 4.60 0a2.30 2.30 0 1 0 -4.60 0ZM683.00 244.30a2.30 2.30 0 1 0 4.60 0a2.30 2.30 0 1 0 -4.60 0ZM685.92 244.30a2.30 2.30 0 1 0 4.60 0a2.30 2.30 0 1 0 -4.60 0ZM688.84 244.30a2.30 2.30 0 1 0 4.60 0a2.30 2.30 0 1 0 -4.60 0ZM691.76 244.30a2.30 2.30 0 1 0 4.60 0a2.30 2.30 0 1 0 -4.60 0ZM694.68 244.30a2.30 2.30 0 1 0 4.60 0a2.30 2.30 0 1 0 -4.60 0ZM697.60 244.30a2.30 2.30 0 1 0 4.60 0a2.30 2.30 0 1 0 -4.60 0ZM700.52 244.30a2.30 2.30 0 1 0 4.60 0a2.30 2.30 0 1 0 -4.60 0ZM703.45 244.30a2.30 2.30 0 1 0 4.60 0a2.30 2.30 0 1 0 -4.60 0ZM706.37 244.30a2.30 2.30 0 1 0 4.60 0a2.30 2.30 0 1 0 -4.60 0ZM709.29 244.30a2.30 2.30 0 1 0 4.60 0a2.30 2.30 0 1 0 -4.60 0ZM712.21 244.30a2.30 2.30 0 1 0 4.60 0a2.30 2.30 0 1 0 -4.60 0ZM715.13 244.30a2.30 2.30 0 1 0 4.60 0a2.30 2.30 0 1 0 -4.60 0ZM718.05 244.30a2.30 2.30 0 1 0 4.60 0a2.30 2.30 0 1 0 -4.60 0ZM720.97 244.30a2.30 2.30 0 1 0 4.60 0a2.30 2.30 0 1 0 -4.60 0ZM723.89 244.30a2.30 2.30 0 1 0 4.60 0a2.30 2.30 0 1 0 -4.60 0ZM726.82 244.30a2.30 2.30 0 1 0 4.60 0a2.30 2.30 0 1 0 -4.60 0ZM729.74 244.30a2.30 2.30 0 1 0 4.60 0a2.30 2.30 0 1 0 -4.60 0ZM732.66 244.30a2.30 2.30 0 1 0 4.60 0a2.30 2.30 0 1 0 -4.60 0ZM735.58 244.30a2.30 2.30 0 1 0 4.60 0a2.30 2.30 0 1 0 -4.60 0ZM738.50 244.30a2.30 2.30 0 1 0 4.60 0a2.30 2.30 0 1 0 -4.60 0Z"/>
<polyline fill="none" stroke="#d97a3a" stroke-width="0.7" points="451.60,244.30 454.52,244.30 457.44,244.30 460.36,244.30 463.28,244.30 466.21,244.30 469.13,244.30 472.05,244.30 474.97,244.30 477.89,244.30 480.81,244.30 483.73,244.30 486.65,244.30 489.58,244.30 492.50,244.29 495.42,244.25 498.34,244.11 501.26,243.73 504.18,242.80 507.10,240.91 510.02,237.70 512.95,233.23 515.87,228.28 518.79,224.30 521.71,222.76 524.63,224.30 527.55,228.28 530.47,233.23 533.39,237.70 536.32,240.91 539.24,242.80 542.16,243.73 545.08,244.11 548.00,244.25 550.92,244.29 553.84,244.30 556.76,244.30 559.68,244.30 562.61,244.30 565.53,244.30 568.45,244.30 571.37,244.30 574.29,244.30 577.21,244.30 580.13,244.30 583.05,244.30 585.98,244.29 588.90,244.17 591.82,243.24 594.74,239.64 597.66,232.99 600.58,229.10 603.50,232.99 606.42,239.64 609.35,243.24 612.27,244.17 615.19,244.29 618.11,244.30 621.03,244.30 623.95,244.30 626.87,244.30 629.79,244.30 632.72,244.30 635.64,244.29 638.56,244.19 641.48,243.67 644.40,242.51 647.32,241.77 650.24,242.51 653.16,243.67 656.08,244.19 659.01,244.29 661.93,244.30 664.85,244.30 667.77,244.30 670.69,244.30 673.61,244.30 676.53,244.30 679.45,244.30 682.38,244.30 685.30,244.30 688.22,244.30 691.14,244.30 694.06,244.30 696.98,244.30 699.90,244.30 702.82,244.30 705.75,244.30 708.67,244.30 711.59,244.30 714.51,244.30 717.43,244.30 720.35,244.30 723.27,244.30 726.19,244.30 729.12,244.30 732.04,244.30 734.96,244.30 737.88,244.30 740.80,244.30"/>
<path fill="#d8601c" d="M448.90 242.28L451.60 247.00L454.30 242.28ZM451.82 242.28L454.52 247.00L457.22 242.28ZM454.74 242.28L457.44 247.00L460.14 242.28ZM457.66 242.27L460.36 247.00L463.06 242.27ZM460.58 242.27L463.28 247.00L465.98 242.27ZM463.51 242.27L466.21 247.00L468.91 242.27ZM466.43 242.27L469.13 247.00L471.83 242.27ZM469.35 242.27L472.05 247.00L474.75 242.27ZM472.27 242.27L474.97 247.00L477.67 242.27ZM475.19 242.27L477.89 247.00L480.59 242.27ZM478.11 242.27L480.81 247.00L483.51 242.27ZM481.03 242.27L483.73 247.00L486.43 242.27ZM483.95 242.27L486.65 247.00L489.35 242.27ZM486.88 242.27L489.58 247.00L492.28 242.27ZM489.80 242.26L492.50 246.99L495.20 242.26ZM492.72 242.22L495.42 246.95L498.12 242.22ZM495.64 242.09L498.34 246.81L501.04 242.09ZM498.56 241.70L501.26 246.43L503.96 241.70ZM501.48 240.77L504.18 245.50L506.88 240.77ZM504.40 238.89L507.10 243.61L509.80 238.89ZM507.32 235.68L510.02 240.40L512.72 235.68ZM510.25 231.21L512.95 235.93L515.65 231.21ZM513.17 226.25L515.87 230.98L518.57 226.25ZM516.09 222.27L518.79 227.00L521.49 222.27ZM519.01 220.74L521.71 225.46L524.41 220.74ZM521.93 222.27L524.63 227.00L527.33 222.27ZM524.85 226.25L527.55 230.98L530.25 226.25ZM527.77 231.21L530.47 235.93L533.17 231.21ZM530.69 235.68L533.39 240.40L536.09 235.68ZM533.62 238.89L536.32 243.61L539.02 238.89ZM536.54 240.77L539.24 245.50L541.94 240.77ZM539.46 241.70L542.16 246.43L544.86 241.70ZM542.38 242.09L545.08 246.81L547.78 242.09ZM545.30 242.22L548.00 246.95L550.70 242.22ZM548.22 242.26L550.92 246.99L553.62 242.26ZM551.14 242.27L553.84 247.00L556.54 242.27ZM554.06 242.27L556.76 247.00L559.46 242.27ZM556.98 242.27L559.68 247.00L562.38 242.27ZM559.91 242.27L562.61 247.00L565.31 242.27ZM562.83 242.27L565.53 247.00L568.23 242.27ZM565.75 242.27L568.45 247.00L571.15 242.27ZM568.67 242.27L571.37 247.00L574.07 242.27ZM571.59 242.27L574.29 247.00L576.99 242.27ZM574.51 242.27L577.21 247.00L579.91 242.27ZM577.43 242.27L580.13 247.00L582.83 242.27ZM580.35 242.27L583.05 247.00L585.75 242.27ZM583.28 242.27L585.98 246.99L588.68 242.27ZM586.20 242.14L588.90 246.87L591.60 242.14ZM589.12 241.21L591.82 245.94L594.52 241.21ZM592.04 237.62L594.74 242.34L597.44 237.62ZM594.96 230.96L597.66 235.69L600.36 230.96ZM597.88 227.07L600.58 231.80L603.28 227.07ZM600.80 230.96L603.50 235.69L606.20 230.96ZM603.72 237.62L606.42 242.34L609.12 237.62ZM606.65 241.21L609.35 245.94L612.05 241.21ZM609.57 242.14L612.27 246.87L614.97 242.14ZM612.49 242.27L615.19 246.99L617.89 242.27ZM615.41 242.27L618.11 247.00L620.81 242.27ZM618.33 242.27L621.03 247.00L623.73 242.27ZM621.25 242.27L623.95 247.00L626.65 242.27ZM624.17 242.27L626.87 247.00L629.57 242.27ZM627.09 242.27L629.79 247.00L632.49 242.27ZM630.02 242.27L632.72 247.00L635.42 242.27ZM632.94 242.27L635.64 246.99L638.34 242.27ZM635.86 242.16L638.56 246.89L641.26 242.16ZM638.78 241.64L641.48 246.37L644.18 241.64ZM641.70 240.48L644.40 245.21L647.10 240.48ZM644.62 239.74L647.32 244.47L650.02 239.74ZM647.54 240.48L650.24 245.21L652.94 240.48ZM650.46 241.64L653.16 246.37L655.86 241.64ZM653.38 242.16L656.08 246.89L658.78 242.16ZM656.31 242.27L659.01 246.99L661.71 242.27ZM659.23 242.27L661.93 247.00L664.63 242.27ZM662.15 242.27L664.85 247.00L667.55 242.27ZM665.07 242.27L667.77 247.00L670.47 242.27ZM667.99 242.27L670.69 247.00L673.39 242.27ZM670.91 242.27L673.61 247.00L676.31 242.27ZM673.83 242.28L676.53 247.00L679.23 242.28ZM676.75 242.28L679.45 247.00L682.15 242.28ZM679.68 242.28L682.38 247.00L685.08 242.28ZM682.60 242.28L685.30 247.00L688.00 242.28ZM685.52 242.28L688.22 247.00L690.92 242.28ZM688.44 242.28L691.14 247.00L693.84 242.28ZM691.36 242.28L694.06 247.00L696.76 242.28ZM694.28 242.28L696.98 247.00L699.68 242.28ZM697.20 242.28L699.90 247.00L702.60 242.28ZM700.12 242.28L702.82 247.00L705.52 242.28ZM703.05 242.28L705.75 247.00L708.45 242.28ZM705.97 242.28L708.67 247.00L711.37 242.28ZM708.89 242.28L711.59 247.00L714.29 242.28ZM711.81 242.28L714.51 247.00L717.21 242.28ZM714.73 242.28L717.43 247.00L720.13 242.28ZM717.65 242.28L720.35 247.00L723.05 242.28ZM720.57 242.28L723.27 247.00L725.97 242.28ZM723.49 242.28L726.19 247.00L728.89 242.28ZM726.42 242.28L729.12 247.00L731.82 242.28ZM729.34 242.28L732.04 247.00L734.74 242.28ZM732.26 242.28L734.96 247.00L737.66 242.28ZM735.18 242.28L737.88 247.00L740.58 242.28ZM738.10 242.28L740.80 247.00L743.50 242.28Z"/>
<polyline fill="none" stroke="#c23a4a" stroke-width="0.7" points="451.60,244.30 454.52,244.30 457.44,244.30 460.36,244.30 463.28,244.30 466.21,244.30 469.13,244.30 472.05,244.30 474.97,244.30 477.89,244.30 480.81,244.30 483.73,244.29 486.65,244.28 489.58,244.24 492.50,244.12 495.42,243.83 498.34,243.22 501.26,242.07 504.18,240.19 507.10,237.53 510.02,234.31 512.95,231.11 515.87,228.72 518.79,227.83 521.71,228.72 524.63,231.11 527.55,234.31 530.47,237.53 533.39,240.19 536.32,242.07 539.24,243.22 542.16,243.83 545.08,244.12 548.00,244.24 550.92,244.28 553.84,244.29 556.76,244.30 559.68,244.30 562.61,244.30 565.53,244.30 568.45,244.30 571.37,244.30 574.29,244.30 577.21,244.30 580.13,244.30 583.05,244.28 585.98,244.15 588.90,243.58 591.82,242.11 594.74,240.04 597.66,238.98 600.58,240.04 603.50,242.11 606.42,243.58 609.35,244.15 612.27,244.28 615.19,244.30 618.11,244.30 621.03,244.30 623.95,244.30 626.87,244.30 629.79,244.30 632.72,244.30 635.64,244.29 638.56,244.22 641.48,243.83 644.40,242.96 647.32,242.40 650.24,242.96 653.16,243.83 656.08,244.22 659.01,244.29 661.93,244.30 664.85,244.30 667.77,244.30 670.69,244.30 673.61,244.30 676.53,244.30 679.45,244.30 682.38,244.30 685.30,244.30 688.22,244.30 691.14,244.30 694.06,244.30 696.98,244.30 699.90,244.30 702.82,244.30 705.75,244.30 708.67,244.30 711.59,244.30 714.51,244.30 717.43,244.30 720.35,244.30 723.27,244.30 726.19,244.30 729.12,244.30 732.04,244.30 734.96,244.30 737.88,244.30 740.80,244.30"/>
<path fill="#b80f20" d="M449.55 242.25h4.10v4.10h-4.10ZM452.47 242.25h4.10v4.10h-4.10ZM455.39 242.25h4.10v4.10h-4.10ZM458.31 242.25h4.10v4.10h-4.10ZM461.23 242.25h4.10v4.10h-4.10ZM464.16 242.25h4.10v4.10h-4.10ZM467.08 242.25h4.10v4.10h-4.10ZM470.00 242.25h4.10v4.10h-4.10ZM472.92 242.25h4.10v4.10h-4.10ZM475.84 242.25h4.10v4.10h-4.10ZM478.76 242.25h4.10v4.10h-4.10ZM481.68 242.24h4.10v4.10h-4.10ZM484.60 242.23h4.10v4.10h-4.10ZM487.53 242.19h4.10v4.10h-4.10ZM490.45 242.07h4.10v4.10h-4.10ZM493.37 241.78h4.10v4.10h-4.10ZM496.29 241.17h4.10v4.10h-4.10ZM499.21 240.02h4.10v4.10h-4.10ZM502.13 238.14h4.10v4.10h-4.10ZM505.05 235.48h4.10v4.10h-4.10ZM507.97 232.26h4.10v4.10h-4.10ZM510.90 229.06h4.10v4.10h-4.10ZM513.82 226.67h4.10v4.10h-4.10ZM516.74 225.78h4.10v4.10h-4.10ZM519.66 226.67h4.10v4.10h-4.10ZM522.58 229.06h4.10v4.10h-4.10ZM525.50 232.26h4.10v4.10h-4.10ZM528.42 235.48h4.10v4.10h-4.10ZM531.34 238.14h4.10v4.10h-4.10ZM534.27 240.02h4.10v4.10h-4.10ZM537.19 241.17h4.10v4.10h-4.10ZM540.11 241.78h4.10v4.10h-4.10ZM543.03 242.07h4.10v4.10h-4.10ZM545.95 242.19h4.10v4.10h-4.10ZM548.87 242.23h4.10v4.10h-4.10ZM551.79 242.24h4.10v4.10h-4.10ZM554.71 242.25h4.10v4.10h-4.10ZM557.63 242.25h4.10v4.10h-4.10ZM560.56 242.25h4.10v4.10h-4.10ZM563.48 242.25h4.10v4.10h-4.10ZM566.40 242.25h4.10v4.10h-4.10ZM569.32 242.25h4.10v4.10h-4.10ZM572.24 242.25h4.10v4.10h-4.10ZM575.16 242.25h4.10v4.10h-4.10ZM578.08 242.25h4.10v4.10h-4.10ZM581.00 242.23h4.10v4.10h-4.10ZM583.93 242.10h4.10v4.10h-4.10ZM586.85 241.53h4.10v4.10h-4.10ZM589.77 240.06h4.10v4.10h-4.10ZM592.69 237.99h4.10v4.10h-4.10ZM595.61 236.93h4.10v4.10h-4.10ZM598.53 237.99h4.10v4.10h-4.10ZM601.45 240.06h4.10v4.10h-4.10ZM604.37 241.53h4.10v4.10h-4.10ZM607.30 242.10h4.10v4.10h-4.10ZM610.22 242.23h4.10v4.10h-4.10ZM613.14 242.25h4.10v4.10h-4.10ZM616.06 242.25h4.10v4.10h-4.10ZM618.98 242.25h4.10v4.10h-4.10ZM621.90 242.25h4.10v4.10h-4.10ZM624.82 242.25h4.10v4.10h-4.10ZM627.74 242.25h4.10v4.10h-4.10ZM630.67 242.25h4.10v4.10h-4.10ZM633.59 242.24h4.10v4.10h-4.10ZM636.51 242.17h4.10v4.10h-4.10ZM639.43 241.78h4.10v4.10h-4.10ZM642.35 240.91h4.10v4.10h-4.10ZM645.27 240.35h4.10v4.10h-4.10ZM648.19 240.91h4.10v4.10h-4.10ZM651.11 241.78h4.10v4.10h-4.10ZM654.03 242.17h4.10v4.10h-4.10ZM656.96 242.24h4.10v4.10h-4.10ZM659.88 242.25h4.10v4.10h-4.10ZM662.80 242.25h4.10v4.10h-4.10ZM665.72 242.25h4.10v4.10h-4.10ZM668.64 242.25h4.10v4.10h-4.10ZM671.56 242.25h4.10v4.10h-4.10ZM674.48 242.25h4.10v4.10h-4.10ZM677.40 242.25h4.10v4.10h-4.10ZM680.33 242.25h4.10v4.10h-4.10ZM683.25 242.25h4.10v4.10h-4.10ZM686.17 242.25h4.10v4.10h-4.10ZM689.09 242.25h4.10v4.10h-4.10ZM692.01 242.25h4.10v4.10h-4.10ZM694.93 242.25h4.10v4.10h-4.10ZM697.85 242.25h4.10v4.10h-4.10ZM700.77 242.25h4.10v4.10h-4.10ZM703.70 242.25h4.10v4.10h-4.10ZM706.62 242.25h4.10v4.10h-4.10ZM709.54 242.25h4.10v4.10h-4.10ZM712.46 242.25h4.10v4.10h-4.10ZM715.38 242.25h4.10v4.10h-4.10ZM718.30 242.25h4.10v4.10h-4.10ZM721.22 242.25h4.10v4.10h-4.10ZM724.14 242.25h4.10v4.10h-4.10ZM727.07 242.25h4.10v4.10h-4.10ZM729.99 242.25h4.10v4.10h-4.10ZM732.91 242.25h4.10v4.10h-4.10ZM735.83 242.25h4.10v4.10h-4.10ZM738.75 242.25h4.10v4.10h-4.10Z"/>
<line x1="466.50" y1="47.00" x2="488.50" y2="47.00" stroke="#a3b6da" stroke-width="0.9" />
<path fill="#0d42a6" d="M474.30 47.00L478.00 43.30L481.70 47.00L478.00 50.70Z"/>
<text x="491.50" y="50.20" font-size="9.4" text-anchor="start" fill="#262626" stroke="#262626" >fresh sample</text>
<line x1="466.50" y1="58.75" x2="488.50" y2="58.75" stroke="#d3e2f0" stroke-width="0.9" />
<path fill="#a6c6e2" d="M475.40 60.70L478.00 56.15L480.60 60.70Z"/>
<text x="491.50" y="61.95" font-size="9.4" text-anchor="start" fill="#262626" stroke="#262626" >FD15</text>
<line x1="466.50" y1="70.50" x2="488.50" y2="70.50" stroke="#f6d8b8" stroke-width="0.9" />
<path fill="#f2c08e" d="M475.30 70.50a2.70 2.70 0 1 0 5.40 0a2.70 2.70 0 1 0 -5.40 0Z"/>
<text x="491.50" y="73.70" font-size="9.4" text-anchor="start" fill="#262626" stroke="#262626" >FD25</text>
<line x1="466.50" y1="82.25" x2="488.50" y2="82.25" stroke="#d9a080" stroke-width="0.9" />
<path fill="#d46a2a" d="M474.90 79.92L478.00 85.35L481.10 79.92Z"/>
<text x="491.50" y="85.45" font-size="9.4" text-anchor="start" fill="#262626" stroke="#262626" >FD35</text>
<line x1="466.50" y1="94.00" x2="488.50" y2="94.00" stroke="#d8b0b8" stroke-width="0.9" />
<path fill="#b02a3a" d="M475.70 91.70h4.6v4.6h-4.6Z"/>
<text x="491.50" y="97.20" font-size="9.4" text-anchor="start" fill="#262626" stroke="#262626" >FD45</text>
<rect x="93.25" y="522.86" width="16.70" height="58.34" fill="#062f82" />
<line x1="101.60" y1="520.19" x2="101.60" y2="522.86" stroke="#6a7280" stroke-width="0.8" />
<line x1="99.10" y1="520.19" x2="104.10" y2="520.19" stroke="#6a7280" stroke-width="0.8" />
<rect x="109.95" y="514.80" width="16.70" height="66.40" fill="#7aa8dc" />
<rect x="109.95" y="504.92" width="16.70" height="5.88" fill="#7aa8dc" />
<line x1="115.80" y1="504.32" x2="120.80" y2="504.32" stroke="#9aa9c0" stroke-width="0.7" />
<rect x="126.65" y="514.80" width="16.70" height="66.40" fill="#d2e4f4" />
<rect x="126.65" y="364.01" width="16.70" height="146.79" fill="#d2e4f4" />
<rect x="155.25" y="530.47" width="16.70" height="50.73" fill="#062f82" />
<line x1="163.60" y1="529.13" x2="163.60" y2="530.47" stroke="#6a7280" stroke-width="0.8" />
<line x1="161.10" y1="529.13" x2="166.10" y2="529.13" stroke="#6a7280" stroke-width="0.8" />
<rect x="171.95" y="514.80" width="16.70" height="66.40" fill="#7aa8dc" />
<rect x="171.95" y="505.65" width="16.70" height="5.15" fill="#7aa8dc" />
<line x1="177.80" y1="505.05" x2="182.80" y2="505.05" stroke="#9aa9c0" stroke-width="0.7" />
<rect x="188.65" y="514.80" width="16.70" height="66.40" fill="#d2e4f4" />
<rect x="188.65" y="427.57" width="16.70" height="83.23" fill="#d2e4f4" />
<rect x="217.25" y="537.15" width="16.70" height="44.05" fill="#062f82" />
<line x1="225.60" y1="535.14" x2="225.60" y2="537.15" stroke="#6a7280" stroke-width="0.8" />
<line x1="223.10" y1="535.14" x2="228.10" y2="535.14" stroke="#6a7280" stroke-width="0.8" />
<rect x="233.95" y="514.80" width="16.70" height="66.40" fill="#7aa8dc" />
<rect x="233.95" y="507.49" width="16.70" height="3.31" fill="#7aa8dc" />
<line x1="239.80" y1="506.89" x2="244.80" y2="506.89" stroke="#9aa9c0" stroke-width="0.7" />
<rect x="250.65" y="514.80" width="16.70" height="66.40" fill="#d2e4f4" />
<rect x="250.65" y="469.99" width="16.70" height="40.81" fill="#d2e4f4" />
<rect x="279.25" y="542.49" width="16.70" height="38.72" fill="#062f82" />
<line x1="287.60" y1="541.15" x2="287.60" y2="542.49" stroke="#6a7280" stroke-width="0.8" />
<line x1="285.10" y1="541.15" x2="290.10" y2="541.15" stroke="#6a7280" stroke-width="0.8" />
<rect x="295.95" y="514.80" width="16.70" height="66.40" fill="#7aa8dc" />
<rect x="295.95" y="508.29" width="16.70" height="2.51" fill="#7aa8dc" />
<line x1="301.80" y1="507.69" x2="306.80" y2="507.69" stroke="#9aa9c0" stroke-width="0.7" />
<rect x="312.65" y="514.80" width="16.70" height="66.40" fill="#d2e4f4" />
<rect x="312.65" y="475.39" width="16.70" height="35.41" fill="#d2e4f4" />
<rect x="341.25" y="547.83" width="16.70" height="33.38" fill="#062f82" />
<line x1="349.60" y1="546.76" x2="349.60" y2="547.83" stroke="#6a7280" stroke-width="0.8" />
<line x1="347.10" y1="546.76" x2="352.10" y2="546.76" stroke="#6a7280" stroke-width="0.8" />
<rect x="357.95" y="514.80" width="16.70" height="66.40" fill="#7aa8dc" />
<rect x="357.95" y="508.76" width="16.70" height="2.04" fill="#7aa8dc" />
<line x1="363.80" y1="508.16" x2="368.80" y2="508.16" stroke="#9aa9c0" stroke-width="0.7" />
<rect x="374.65" y="514.80" width="16.70" height="66.40" fill="#d2e4f4" />
<rect x="374.65" y="475.39" width="16.70" height="35.41" fill="#d2e4f4" />
<line x1="87.30" y1="352.70" x2="87.30" y2="509.50" stroke="#303030" stroke-width="1.1" />
<line x1="87.30" y1="516.00" x2="87.30" y2="581.70" stroke="#303030" stroke-width="1.1" />
<line x1="83.00" y1="496.21" x2="87.30" y2="496.21" stroke="#303030" stroke-width="1" />
<text x="79.00" y="499.21" font-size="8.8" text-anchor="end" fill="#262626" stroke="#262626" >50</text>
<line x1="83.00" y1="480.32" x2="87.30" y2="480.32" stroke="#303030" stroke-width="1" />
<text x="79.00" y="483.32" font-size="8.8" text-anchor="end" fill="#262626" stroke="#262626" >100</text>
<line x1="83.00" y1="464.43" x2="87.30" y2="464.43" stroke="#303030" stroke-width="1" />
<text x="79.00" y="467.43" font-size="8.8" text-anchor="end" fill="#262626" stroke="#262626" >150</text>
<line x1="83.00" y1="448.54" x2="87.30" y2="448.54" stroke="#303030" stroke-width="1" />
<text x="79.00" y="451.54" font-size="8.8" text-anchor="end" fill="#262626" stroke="#262626" >200</text>
<line x1="83.00" y1="432.65" x2="87.30" y2="432.65" stroke="#303030" stroke-width="1" />
<text x="79.00" y="435.65" font-size="8.8" text-anchor="end" fill="#262626" stroke="#262626" >250</text>
<line x1="83.00" y1="416.76" x2="87.30" y2="416.76" stroke="#303030" stroke-width="1" />
<text x="79.00" y="419.76" font-size="8.8" text-anchor="end" fill="#262626" stroke="#262626" >300</text>
<line x1="83.00" y1="400.87" x2="87.30" y2="400.87" stroke="#303030" stroke-width="1" />
<text x="79.00" y="403.87" font-size="8.8" text-anchor="end" fill="#262626" stroke="#262626" >350</text>
<line x1="83.00" y1="384.98" x2="87.30" y2="384.98" stroke="#303030" stroke-width="1" />
<text x="79.00" y="387.98" font-size="8.8" text-anchor="end" fill="#262626" stroke="#262626" >400</text>
<line x1="83.00" y1="369.09" x2="87.30" y2="369.09" stroke="#303030" stroke-width="1" />
<text x="79.00" y="372.09" font-size="8.8" text-anchor="end" fill="#262626" stroke="#262626" >450</text>
<line x1="83.00" y1="353.20" x2="87.30" y2="353.20" stroke="#303030" stroke-width="1" />
<text x="79.00" y="356.20" font-size="8.8" text-anchor="end" fill="#262626" stroke="#262626" >500</text>
<line x1="83.00" y1="581.20" x2="87.30" y2="581.20" stroke="#303030" stroke-width="1" />
<text x="79.00" y="584.20" font-size="8.8" text-anchor="end" fill="#262626" stroke="#262626" >0.0</text>
<line x1="83.00" y1="567.85" x2="87.30" y2="567.85" stroke="#303030" stroke-width="1" />
<text x="79.00" y="570.85" font-size="8.8" text-anchor="end" fill="#262626" stroke="#262626" >0.1</text>
<line x1="83.00" y1="554.50" x2="87.30" y2="554.50" stroke="#303030" stroke-width="1" />
<text x="79.00" y="557.50" font-size="8.8" text-anchor="end" fill="#262626" stroke="#262626" >0.2</text>
<line x1="83.00" y1="541.15" x2="87.30" y2="541.15" stroke="#303030" stroke-width="1" />
<text x="79.00" y="544.15" font-size="8.8" text-anchor="end" fill="#262626" stroke="#262626" >0.3</text>
<line x1="83.00" y1="527.80" x2="87.30" y2="527.80" stroke="#303030" stroke-width="1" />
<text x="79.00" y="530.80" font-size="8.8" text-anchor="end" fill="#262626" stroke="#262626" >0.4</text>
<rect x="81.30" y="509.8" width="12" height="6" fill="#fff"/>
<line x1="82.60" y1="512.70" x2="92.30" y2="508.60" stroke="#303030" stroke-width="0.9" />
<line x1="82.60" y1="516.70" x2="92.30" y2="512.30" stroke="#303030" stroke-width="0.9" />
<line x1="86.80" y1="581.20" x2="398.20" y2="581.20" stroke="#303030" stroke-width="1.1" />
<line x1="87.30" y1="581.20" x2="87.30" y2="585.50" stroke="#303030" stroke-width="1" />
<line x1="149.30" y1="581.20" x2="149.30" y2="585.50" stroke="#303030" stroke-width="1" />
<line x1="211.30" y1="581.20" x2="211.30" y2="585.50" stroke="#303030" stroke-width="1" />
<line x1="273.30" y1="581.20" x2="273.30" y2="585.50" stroke="#303030" stroke-width="1" />
<line x1="335.30" y1="581.20" x2="335.30" y2="585.50" stroke="#303030" stroke-width="1" />
<line x1="397.30" y1="581.20" x2="397.30" y2="585.50" stroke="#303030" stroke-width="1" />
<line x1="118.30" y1="581.20" x2="118.30" y2="585.50" stroke="#303030" stroke-width="1" />
<line x1="180.30" y1="581.20" x2="180.30" y2="585.50" stroke="#303030" stroke-width="1" />
<line x1="242.30" y1="581.20" x2="242.30" y2="585.50" stroke="#303030" stroke-width="1" />
<line x1="304.30" y1="581.20" x2="304.30" y2="585.50" stroke="#303030" stroke-width="1" />
<line x1="366.30" y1="581.20" x2="366.30" y2="585.50" stroke="#303030" stroke-width="1" />
<text x="116.00" y="599.50" font-size="10.4" text-anchor="middle" fill="#262626" stroke="#262626" >Fresh sample</text>
<text x="180.30" y="599.50" font-size="10.4" text-anchor="middle" fill="#262626" stroke="#262626" >FD15</text>
<text x="241.50" y="599.50" font-size="10.4" text-anchor="middle" fill="#262626" stroke="#262626" >FD25</text>
<text x="302.80" y="599.50" font-size="10.4" text-anchor="middle" fill="#262626" stroke="#262626" >FD35</text>
<text x="367.50" y="598.70" font-size="10.4" text-anchor="middle" fill="#262626" stroke="#262626" >FD45</text>
<text x="0" y="0" font-size="11.3" text-anchor="middle" fill="#262626" stroke="#262626" transform="translate(58.8,473.6) rotate(-90)">Transverse relaxation time (ms)</text>
<rect x="345.00" y="359.20" width="21.00" height="10.20" fill="#062f82" />
<text x="367.50" y="367.50" font-size="9.2" text-anchor="start" fill="#262626" stroke="#262626" >T21</text>
<rect x="345.00" y="370.00" width="21.00" height="10.20" fill="#7aa8dc" />
<text x="367.50" y="378.30" font-size="9.2" text-anchor="start" fill="#262626" stroke="#262626" >T22</text>
<rect x="345.00" y="380.80" width="21.00" height="10.20" fill="#d2e4f4" />
<text x="367.50" y="389.10" font-size="9.2" text-anchor="start" fill="#262626" stroke="#262626" >T23</text>
<rect x="460.90" y="536.11" width="16.20" height="32.39" fill="#062f82" />
<line x1="469.00" y1="534.17" x2="469.00" y2="536.11" stroke="#6a7280" stroke-width="0.8" />
<line x1="466.50" y1="534.17" x2="471.50" y2="534.17" stroke="#6a7280" stroke-width="0.8" />
<rect x="477.10" y="511.33" width="16.20" height="57.17" fill="#7aa8dc" />
<line x1="482.70" y1="510.73" x2="487.70" y2="510.73" stroke="#9aa9c0" stroke-width="0.7" />
<rect x="493.30" y="459.30" width="16.20" height="109.20" fill="#d2e4f4" />
<rect x="493.30" y="368.06" width="16.20" height="87.14" fill="#d2e4f4" />
<rect x="521.35" y="474.13" width="16.20" height="94.37" fill="#062f82" />
<line x1="529.45" y1="471.41" x2="529.45" y2="474.13" stroke="#6a7280" stroke-width="0.8" />
<line x1="526.95" y1="471.41" x2="531.95" y2="471.41" stroke="#6a7280" stroke-width="0.8" />
<rect x="537.55" y="459.30" width="16.20" height="109.20" fill="#7aa8dc" />
<rect x="537.55" y="449.56" width="16.20" height="5.64" fill="#7aa8dc" />
<rect x="553.75" y="459.30" width="16.20" height="109.20" fill="#d2e4f4" />
<rect x="553.75" y="425.85" width="16.20" height="29.35" fill="#d2e4f4" />
<rect x="581.80" y="466.36" width="16.20" height="102.14" fill="#062f82" />
<line x1="589.90" y1="462.48" x2="589.90" y2="466.36" stroke="#6a7280" stroke-width="0.8" />
<line x1="587.40" y1="462.48" x2="592.40" y2="462.48" stroke="#6a7280" stroke-width="0.8" />
<rect x="598.00" y="459.30" width="16.20" height="109.20" fill="#7aa8dc" />
<rect x="598.00" y="452.44" width="16.20" height="2.76" fill="#7aa8dc" />
<rect x="614.20" y="555.45" width="16.20" height="13.05" fill="#d2e4f4" />
<rect x="642.25" y="496.50" width="16.20" height="72.00" fill="#062f82" />
<line x1="650.35" y1="495.72" x2="650.35" y2="496.50" stroke="#6a7280" stroke-width="0.8" />
<line x1="647.85" y1="495.72" x2="652.85" y2="495.72" stroke="#6a7280" stroke-width="0.8" />
<rect x="658.45" y="547.37" width="16.20" height="21.13" fill="#7aa8dc" />
<line x1="664.05" y1="546.77" x2="669.05" y2="546.77" stroke="#9aa9c0" stroke-width="0.7" />
<rect x="674.65" y="565.70" width="16.20" height="2.80" fill="#d2e4f4" />
<rect x="702.70" y="505.12" width="16.20" height="63.38" fill="#062f82" />
<line x1="710.80" y1="504.50" x2="710.80" y2="505.12" stroke="#6a7280" stroke-width="0.8" />
<line x1="708.30" y1="504.50" x2="713.30" y2="504.50" stroke="#6a7280" stroke-width="0.8" />
<rect x="718.90" y="561.35" width="16.20" height="7.15" fill="#7aa8dc" />
<line x1="724.50" y1="560.75" x2="729.50" y2="560.75" stroke="#9aa9c0" stroke-width="0.7" />
<rect x="735.10" y="568.11" width="16.20" height="0.39" fill="#d2e4f4" />
<line x1="454.90" y1="344.90" x2="454.90" y2="455.40" stroke="#303030" stroke-width="1.1" />
<line x1="454.90" y1="459.60" x2="454.90" y2="569.00" stroke="#303030" stroke-width="1.1" />
<line x1="450.60" y1="441.40" x2="454.90" y2="441.40" stroke="#303030" stroke-width="1" />
<text x="448.10" y="444.60" font-size="9.9" text-anchor="end" fill="#262626" stroke="#262626" >400</text>
<line x1="450.60" y1="422.20" x2="454.90" y2="422.20" stroke="#303030" stroke-width="1" />
<text x="448.10" y="425.40" font-size="9.9" text-anchor="end" fill="#262626" stroke="#262626" >600</text>
<line x1="450.60" y1="403.00" x2="454.90" y2="403.00" stroke="#303030" stroke-width="1" />
<text x="448.10" y="406.20" font-size="9.9" text-anchor="end" fill="#262626" stroke="#262626" >800</text>
<line x1="450.60" y1="383.80" x2="454.90" y2="383.80" stroke="#303030" stroke-width="1" />
<text x="448.10" y="387.00" font-size="9.9" text-anchor="end" fill="#262626" stroke="#262626" >1000</text>
<line x1="450.60" y1="364.60" x2="454.90" y2="364.60" stroke="#303030" stroke-width="1" />
<text x="448.10" y="367.80" font-size="9.9" text-anchor="end" fill="#262626" stroke="#262626" >1200</text>
<line x1="450.60" y1="345.40" x2="454.90" y2="345.40" stroke="#303030" stroke-width="1" />
<text x="448.10" y="348.60" font-size="9.9" text-anchor="end" fill="#262626" stroke="#262626" >1400</text>
<line x1="450.60" y1="568.50" x2="454.90" y2="568.50" stroke="#303030" stroke-width="1" />
<text x="448.10" y="571.70" font-size="9.9" text-anchor="end" fill="#262626" stroke="#262626" >0</text>
<line x1="450.60" y1="552.97" x2="454.90" y2="552.97" stroke="#303030" stroke-width="1" />
<text x="448.10" y="556.17" font-size="9.9" text-anchor="end" fill="#262626" stroke="#262626" >20</text>
<line x1="450.60" y1="537.43" x2="454.90" y2="537.43" stroke="#303030" stroke-width="1" />
<text x="448.10" y="540.63" font-size="9.9" text-anchor="end" fill="#262626" stroke="#262626" >40</text>
<line x1="450.60" y1="521.90" x2="454.90" y2="521.90" stroke="#303030" stroke-width="1" />
<text x="448.10" y="525.10" font-size="9.9" text-anchor="end" fill="#262626" stroke="#262626" >60</text>
<line x1="450.60" y1="506.36" x2="454.90" y2="506.36" stroke="#303030" stroke-width="1" />
<text x="448.10" y="509.56" font-size="9.9" text-anchor="end" fill="#262626" stroke="#262626" >80</text>
<line x1="450.60" y1="490.83" x2="454.90" y2="490.83" stroke="#303030" stroke-width="1" />
<text x="448.10" y="494.03" font-size="9.9" text-anchor="end" fill="#262626" stroke="#262626" >100</text>
<line x1="450.60" y1="475.30" x2="454.90" y2="475.30" stroke="#303030" stroke-width="1" />
<text x="448.10" y="478.50" font-size="9.9" text-anchor="end" fill="#262626" stroke="#262626" >120</text>
<rect x="448.90" y="455.4" width="12" height="4.2" fill="#fff"/>
<line x1="450.30" y1="457.50" x2="459.60" y2="453.30" stroke="#303030" stroke-width="0.9" />
<line x1="450.30" y1="461.40" x2="459.60" y2="457.20" stroke="#303030" stroke-width="0.9" />
<line x1="454.40" y1="568.40" x2="757.90" y2="568.40" stroke="#303030" stroke-width="1.1" />
<line x1="454.80" y1="568.40" x2="454.80" y2="572.70" stroke="#303030" stroke-width="1" />
<line x1="515.25" y1="568.40" x2="515.25" y2="572.70" stroke="#303030" stroke-width="1" />
<line x1="575.70" y1="568.40" x2="575.70" y2="572.70" stroke="#303030" stroke-width="1" />
<line x1="636.15" y1="568.40" x2="636.15" y2="572.70" stroke="#303030" stroke-width="1" />
<line x1="696.60" y1="568.40" x2="696.60" y2="572.70" stroke="#303030" stroke-width="1" />
<line x1="757.05" y1="568.40" x2="757.05" y2="572.70" stroke="#303030" stroke-width="1" />
<line x1="485.20" y1="568.40" x2="485.20" y2="572.70" stroke="#303030" stroke-width="1" />
<line x1="545.65" y1="568.40" x2="545.65" y2="572.70" stroke="#303030" stroke-width="1" />
<line x1="606.10" y1="568.40" x2="606.10" y2="572.70" stroke="#303030" stroke-width="1" />
<line x1="666.55" y1="568.40" x2="666.55" y2="572.70" stroke="#303030" stroke-width="1" />
<line x1="727.00" y1="568.40" x2="727.00" y2="572.70" stroke="#303030" stroke-width="1" />
<text x="485.70" y="588.00" font-size="10.4" text-anchor="middle" fill="#262626" stroke="#262626" >Fresh sample</text>
<text x="544.15" y="588.00" font-size="10.4" text-anchor="middle" fill="#262626" stroke="#262626" >FD15</text>
<text x="607.30" y="588.00" font-size="10.4" text-anchor="middle" fill="#262626" stroke="#262626" >FD25</text>
<text x="664.05" y="588.00" font-size="10.4" text-anchor="middle" fill="#262626" stroke="#262626" >FD35</text>
<text x="723.20" y="588.00" font-size="10.4" text-anchor="middle" fill="#262626" stroke="#262626" >FD45</text>
<text x="0" y="0" font-size="10.85" text-anchor="middle" fill="#262626" stroke="#262626" transform="translate(419.8,463.8) rotate(-90)">Signal intensity (a.u.)</text>
<rect x="699.90" y="340.80" width="20.30" height="9.80" fill="#062f82" />
<text x="721.50" y="349.00" font-size="9.2" text-anchor="start" fill="#262626" stroke="#262626" >A21</text>
<rect x="699.90" y="351.50" width="20.30" height="9.80" fill="#7aa8dc" />
<text x="721.50" y="359.70" font-size="9.2" text-anchor="start" fill="#262626" stroke="#262626" >A22</text>
<rect x="699.90" y="362.20" width="20.30" height="9.80" fill="#d2e4f4" />
<text x="721.50" y="370.40" font-size="9.2" text-anchor="start" fill="#262626" stroke="#262626" >A23</text>
<path d="M504.92 621.21A29.2 14.8 0 0 1 500.87 623.42L500.87 633.92A29.2 14.8 0 0 0 504.92 631.71Z" fill="#0b3287" stroke="#0b3287" stroke-width="0.3"/>
<path d="M504.92 631.71A29.2 14.8 0 0 1 500.87 633.92" fill="none" stroke="#0b3591" stroke-width="0.6"/>
<path d="M500.87 623.42A29.2 14.8 0 0 1 491.83 626.16L491.83 636.66A29.2 14.8 0 0 0 500.87 633.92Z" fill="#84a9d9" stroke="#84a9d9" stroke-width="0.3"/>
<path d="M500.87 633.92A29.2 14.8 0 0 1 491.83 636.66" fill="none" stroke="#7d9cc8" stroke-width="0.6"/>
<path d="M491.83 626.16A29.2 14.8 0 0 1 452.40 612.30L452.40 622.80A29.2 14.8 0 0 0 491.83 636.66Z" fill="#cadcf0" stroke="#cadcf0" stroke-width="0.3"/>
<path d="M491.83 636.66A29.2 14.8 0 0 1 452.40 622.80" fill="none" stroke="#b4c6dc" stroke-width="0.6"/>
<path d="M510.80 612.30A29.2 14.8 0 0 1 504.92 621.21L504.92 631.71A29.2 14.8 0 0 0 510.80 622.80Z" fill="#cadcf0" stroke="#cadcf0" stroke-width="0.3"/>
<path d="M510.80 622.80A29.2 14.8 0 0 1 504.92 631.71" fill="none" stroke="#b4c6dc" stroke-width="0.6"/>
<path d="M481.60 613.80L504.92 622.71A29.2 14.8 0 0 1 500.87 624.92Z" fill="#0b3591" stroke="#0b3591" stroke-width="0.3"/>
<path d="M481.60 613.80L500.87 624.92A29.2 14.8 0 0 1 491.83 627.66Z" fill="#8db3e2" stroke="#8db3e2" stroke-width="0.3"/>
<path d="M481.60 613.80L491.83 627.66A29.2 14.8 0 1 1 504.92 622.71Z" fill="#d5e5f5" stroke="#d5e5f5" stroke-width="0.3"/>
<path d="M500.87 624.92A29.2 14.8 0 0 1 491.83 627.66" fill="none" stroke="#7d9cc8" stroke-width="0.5" opacity="0.8"/>
<path d="M452.40 613.80A29.2 14.8 0 0 1 510.80 613.80" fill="none" stroke="#b4c6dc" stroke-width="0.6"/>
<path d="M491.83 627.66A29.2 14.8 0 0 1 452.40 613.80" fill="none" stroke="#b4c6dc" stroke-width="0.5" opacity="0.8"/>
<path d="M510.80 613.80A29.2 14.8 0 0 1 504.92 622.71" fill="none" stroke="#b4c6dc" stroke-width="0.5" opacity="0.8"/>
<text x="454.20" y="617.30" font-size="8.3" fill="#1e2a44" stroke="#1e2a44" text-anchor="start" >90.98%</text>
<text x="488.80" y="615.20" font-size="8.3" fill="#1e2a44" stroke="#1e2a44" text-anchor="start" >3.25%</text>
<text x="471.00" y="637.90" font-size="8.3" fill="#1e2a44" stroke="#1e2a44" text-anchor="start" >5.77%</text>
<line x1="500.0" y1="620.5" x2="502.6" y2="616.8" stroke="#000" stroke-width="0.7"/><path d="M0 0L-2.6 -1.3L-2.6 1.3Z" fill="#000" transform="translate(502.6,616.8) rotate(-54.9)"/>
<line x1="492.0" y1="623.8" x2="485.0" y2="628.2" stroke="#000" stroke-width="0.7"/><path d="M0 0L-2.6 -1.3L-2.6 1.3Z" fill="#000" transform="translate(485.0,628.2) rotate(147.8)"/>
<path d="M567.75 620.60A28.5 15 0 0 1 549.64 626.74L549.64 637.24A28.5 15 0 0 0 567.75 631.10Z" fill="#0b3287" stroke="#0b3287" stroke-width="0.3"/>
<path d="M567.75 631.10A28.5 15 0 0 1 549.64 637.24" fill="none" stroke="#0b3591" stroke-width="0.6"/>
<path d="M549.64 626.74A28.5 15 0 0 1 515.90 612.00L515.90 622.50A28.5 15 0 0 0 549.64 637.24Z" fill="#84a9d9" stroke="#84a9d9" stroke-width="0.3"/>
<path d="M549.64 637.24A28.5 15 0 0 1 515.90 622.50" fill="none" stroke="#7d9cc8" stroke-width="0.6"/>
<path d="M572.90 612.00A28.5 15 0 0 1 567.75 620.60L567.75 631.10A28.5 15 0 0 0 572.90 622.50Z" fill="#cadcf0" stroke="#cadcf0" stroke-width="0.3"/>
<path d="M572.90 622.50A28.5 15 0 0 1 567.75 631.10" fill="none" stroke="#b4c6dc" stroke-width="0.6"/>
<path d="M544.40 613.50L567.75 622.10A28.5 15 0 0 1 549.64 628.24Z" fill="#0b3591" stroke="#0b3591" stroke-width="0.3"/>
<path d="M544.40 613.50L549.64 628.24A28.5 15 0 0 1 516.45 610.56Z" fill="#8db3e2" stroke="#8db3e2" stroke-width="0.3"/>
<path d="M544.40 613.50L516.45 610.56A28.5 15 0 1 1 567.75 622.10Z" fill="#d5e5f5" stroke="#d5e5f5" stroke-width="0.3"/>
<path d="M515.90 613.50A28.5 15 0 0 1 516.45 610.56" fill="none" stroke="#7d9cc8" stroke-width="0.6"/>
<path d="M549.64 628.24A28.5 15 0 0 1 515.90 613.50" fill="none" stroke="#7d9cc8" stroke-width="0.5" opacity="0.8"/>
<path d="M516.45 610.56A28.5 15 0 0 1 572.90 613.50" fill="none" stroke="#b4c6dc" stroke-width="0.6"/>
<path d="M572.90 613.50A28.5 15 0 0 1 567.75 622.10" fill="none" stroke="#b4c6dc" stroke-width="0.5" opacity="0.8"/>
<text x="537.80" y="607.80" font-size="8.3" fill="#1e2a44" stroke="#1e2a44" text-anchor="start" >56.58%</text>
<text x="518.60" y="621.60" font-size="8.3" fill="#34507e" stroke="#34507e" text-anchor="start" >31.08%</text>
<text x="0.00" y="0.00" font-size="8.3" fill="#dfe7f4" stroke="#dfe7f4" text-anchor="middle" transform="translate(556.8,626) rotate(38)">12.34%</text>
<path d="M628.40 620.98A27.9 15.2 0 0 1 583.32 622.27L583.32 632.77A27.9 15.2 0 0 0 628.40 631.48Z" fill="#0b3287" stroke="#0b3287" stroke-width="0.3"/>
<path d="M628.40 631.48A27.9 15.2 0 0 1 583.32 632.77" fill="none" stroke="#0b3591" stroke-width="0.6"/>
<path d="M583.32 622.27A27.9 15.2 0 0 1 577.10 612.70L577.10 623.20A27.9 15.2 0 0 0 583.32 632.77Z" fill="#84a9d9" stroke="#84a9d9" stroke-width="0.3"/>
<path d="M583.32 632.77A27.9 15.2 0 0 1 577.10 623.20" fill="none" stroke="#7d9cc8" stroke-width="0.6"/>
<path d="M632.90 612.70A27.9 15.2 0 0 1 631.22 617.90L631.22 628.40A27.9 15.2 0 0 0 632.90 623.20Z" fill="#84a9d9" stroke="#84a9d9" stroke-width="0.3"/>
<path d="M632.90 623.20A27.9 15.2 0 0 1 631.22 628.40" fill="none" stroke="#7d9cc8" stroke-width="0.6"/>
<path d="M631.22 617.90A27.9 15.2 0 0 1 628.40 620.98L628.40 631.48A27.9 15.2 0 0 0 631.22 628.40Z" fill="#cadcf0" stroke="#cadcf0" stroke-width="0.3"/>
<path d="M631.22 628.40A27.9 15.2 0 0 1 628.40 631.48" fill="none" stroke="#b4c6dc" stroke-width="0.6"/>
<path d="M605.00 614.20L628.40 622.48A27.9 15.2 0 0 1 583.32 623.77Z" fill="#0b3591" stroke="#0b3591" stroke-width="0.3"/>
<path d="M605.00 614.20L583.32 623.77A27.9 15.2 0 1 1 631.22 619.40Z" fill="#8db3e2" stroke="#8db3e2" stroke-width="0.3"/>
<path d="M605.00 614.20L631.22 619.40A27.9 15.2 0 0 1 628.40 622.48Z" fill="#d5e5f5" stroke="#d5e5f5" stroke-width="0.3"/>
<path d="M577.10 614.20A27.9 15.2 0 0 1 632.90 614.20" fill="none" stroke="#7d9cc8" stroke-width="0.6"/>
<path d="M583.32 623.77A27.9 15.2 0 0 1 577.10 614.20" fill="none" stroke="#7d9cc8" stroke-width="0.5" opacity="0.8"/>
<path d="M632.90 614.20A27.9 15.2 0 0 1 631.22 619.40" fill="none" stroke="#7d9cc8" stroke-width="0.5" opacity="0.8"/>
<path d="M631.22 619.40A27.9 15.2 0 0 1 628.40 622.48" fill="none" stroke="#b4c6dc" stroke-width="0.5" opacity="0.8"/>
<text x="0.00" y="0.00" font-size="8.3" fill="#1e2a44" stroke="#1e2a44" text-anchor="middle" transform="translate(593,614.0) rotate(-17)" font-style="italic">65.40%</text>
<text x="0.00" y="0.00" font-size="8.3" fill="#1e2a44" stroke="#1e2a44" text-anchor="middle" transform="translate(616.8,613.6) rotate(12)" font-style="italic">3.69%</text>
<text x="608.60" y="629.00" font-size="8.3" fill="#f2f5fb" stroke="#f2f5fb" text-anchor="middle" >30.91%</text>
<line x1="623.5" y1="616.7" x2="630.4" y2="622.7" stroke="#000" stroke-width="0.7"/><circle cx="625" cy="618" r="1" fill="#000"/>
<path d="M695.80 611.90A28.5 14.3 0 0 1 692.46 618.61L692.46 629.11A28.5 14.3 0 0 0 695.80 622.40Z" fill="#84a9d9" stroke="#84a9d9" stroke-width="0.3"/>
<path d="M695.80 622.40A28.5 14.3 0 0 1 692.46 629.11" fill="none" stroke="#7d9cc8" stroke-width="0.6"/>
<path d="M692.46 618.61A28.5 14.3 0 0 1 689.13 621.09L689.13 631.59A28.5 14.3 0 0 0 692.46 629.11Z" fill="#cadcf0" stroke="#cadcf0" stroke-width="0.3"/>
<path d="M692.46 629.11A28.5 14.3 0 0 1 689.13 631.59" fill="none" stroke="#b4c6dc" stroke-width="0.6"/>
<path d="M689.13 621.09A28.5 14.3 0 0 1 638.80 611.90L638.80 622.40A28.5 14.3 0 0 0 689.13 631.59Z" fill="#0b3287" stroke="#0b3287" stroke-width="0.3"/>
<path d="M689.13 631.59A28.5 14.3 0 0 1 638.80 622.40" fill="none" stroke="#0b3591" stroke-width="0.6"/>
<path d="M667.30 613.40L667.30 599.10A28.5 14.3 0 0 1 692.46 620.11Z" fill="#8db3e2" stroke="#8db3e2" stroke-width="0.3"/>
<path d="M667.30 613.40L692.46 620.11A28.5 14.3 0 0 1 689.13 622.59Z" fill="#d5e5f5" stroke="#d5e5f5" stroke-width="0.3"/>
<path d="M667.30 613.40L689.13 622.59A28.5 14.3 0 1 1 667.30 599.10Z" fill="#0b3591" stroke="#0b3591" stroke-width="0.3"/>
<path d="M667.30 599.10A28.5 14.3 0 0 1 695.80 613.40" fill="none" stroke="#7d9cc8" stroke-width="0.6"/>
<path d="M695.80 613.40A28.5 14.3 0 0 1 692.46 620.11" fill="none" stroke="#7d9cc8" stroke-width="0.5" opacity="0.8"/>
<path d="M692.46 620.11A28.5 14.3 0 0 1 689.13 622.59" fill="none" stroke="#b4c6dc" stroke-width="0.5" opacity="0.8"/>
<path d="M638.80 613.40A28.5 14.3 0 0 1 667.30 599.10" fill="none" stroke="#0b3591" stroke-width="0.6"/>
<text x="641.20" y="615.70" font-size="8.3" fill="#f2f5fb" stroke="#f2f5fb" text-anchor="start" >75.19%</text>
<text x="670.00" y="612.70" font-size="8.3" fill="#1e2a44" stroke="#1e2a44" text-anchor="start" font-style="italic">21.87%</text>
<text x="666.50" y="632.50" font-size="8.3" fill="#f2f5fb" stroke="#f2f5fb" text-anchor="start" >2.94%</text>
<line x1="674.5" y1="624.2" x2="678.0" y2="620.8" stroke="#fff" stroke-width="0.7"/><path d="M0 0L-2.6 -1.3L-2.6 1.3Z" fill="#fff" transform="translate(678.0,620.8) rotate(-44.2)"/>
<path d="M756.80 612.70A28.4 14.6 0 0 1 754.34 618.64L754.34 629.14A28.4 14.6 0 0 0 756.80 623.20Z" fill="#84a9d9" stroke="#84a9d9" stroke-width="0.3"/>
<path d="M756.80 623.20A28.4 14.6 0 0 1 754.34 629.14" fill="none" stroke="#7d9cc8" stroke-width="0.6"/>
<path d="M754.34 618.64A28.4 14.6 0 0 1 753.00 620.00L753.00 630.50A28.4 14.6 0 0 0 754.34 629.14Z" fill="#cadcf0" stroke="#cadcf0" stroke-width="0.3"/>
<path d="M754.34 629.14A28.4 14.6 0 0 1 753.00 630.50" fill="none" stroke="#b4c6dc" stroke-width="0.6"/>
<path d="M753.00 620.00A28.4 14.6 0 0 1 700.00 612.70L700.00 623.20A28.4 14.6 0 0 0 753.00 630.50Z" fill="#0b3287" stroke="#0b3287" stroke-width="0.3"/>
<path d="M753.00 630.50A28.4 14.6 0 0 1 700.00 623.20" fill="none" stroke="#0b3591" stroke-width="0.6"/>
<path d="M728.40 614.20L756.37 611.66A28.4 14.6 0 0 1 754.34 620.14Z" fill="#8db3e2" stroke="#8db3e2" stroke-width="0.3"/>
<path d="M728.40 614.20L754.34 620.14A28.4 14.6 0 0 1 753.00 621.50Z" fill="#d5e5f5" stroke="#d5e5f5" stroke-width="0.3"/>
<path d="M728.40 614.20L753.00 621.50A28.4 14.6 0 1 1 756.37 611.66Z" fill="#0b3591" stroke="#0b3591" stroke-width="0.3"/>
<path d="M756.37 611.66A28.4 14.6 0 0 1 756.80 614.20" fill="none" stroke="#7d9cc8" stroke-width="0.6"/>
<path d="M756.80 614.20A28.4 14.6 0 0 1 754.34 620.14" fill="none" stroke="#7d9cc8" stroke-width="0.5" opacity="0.8"/>
<path d="M754.34 620.14A28.4 14.6 0 0 1 753.00 621.50" fill="none" stroke="#b4c6dc" stroke-width="0.5" opacity="0.8"/>
<path d="M700.00 614.20A28.4 14.6 0 0 1 756.37 611.66" fill="none" stroke="#0b3591" stroke-width="0.6"/>
<text x="704.20" y="620.60" font-size="8.3" fill="#f2f5fb" stroke="#f2f5fb" text-anchor="start" >88.96%</text>
<text x="739.30" y="620.60" font-size="8.3" fill="#4a5d80" stroke="#4a5d80" text-anchor="start" >9.40%</text>
<text x="727.80" y="634.60" font-size="8.3" fill="#f2f5fb" stroke="#f2f5fb" text-anchor="start" >1.64%</text>
<line x1="742.2" y1="626.2" x2="750.5" y2="621.9" stroke="#fff" stroke-width="0.7"/><path d="M0 0L-2.6 -1.3L-2.6 1.3Z" fill="#fff" transform="translate(750.5,621.9) rotate(-27.4)"/>
</svg>
<div class="cap" style="top:653.2px;word-spacing:-0.435px;"><b style="margin-right:3px">Fig. 1.</b> (A) The transverse relaxation time (T<sub>2</sub>) curve of fresh seed-used pumpkin (SUP); (B) T<sub>2</sub> curves of SUP during FD process; (C-D) NMR parameters of SUP during</div>
<div class="cap" style="top:667.3px;word-spacing:0.57px;">FD process (FD15: freeze-drying duration is 15 h; FD25: freeze-drying duration is 25 h; FD35: freeze-drying duration is 35 h; FD45: freeze-drying duration is 45 h;</div>
<div class="cap" style="top:682.1px;word-spacing:1.292px;">A<sub>21</sub>: the corresponding peak area of T<sub>21</sub>; A<sub>22</sub>: the corresponding peak area of T<sub>22</sub>; A<sub>23</sub>: the corresponding peak area of T<sub>23</sub>).</div>
</body></html>
